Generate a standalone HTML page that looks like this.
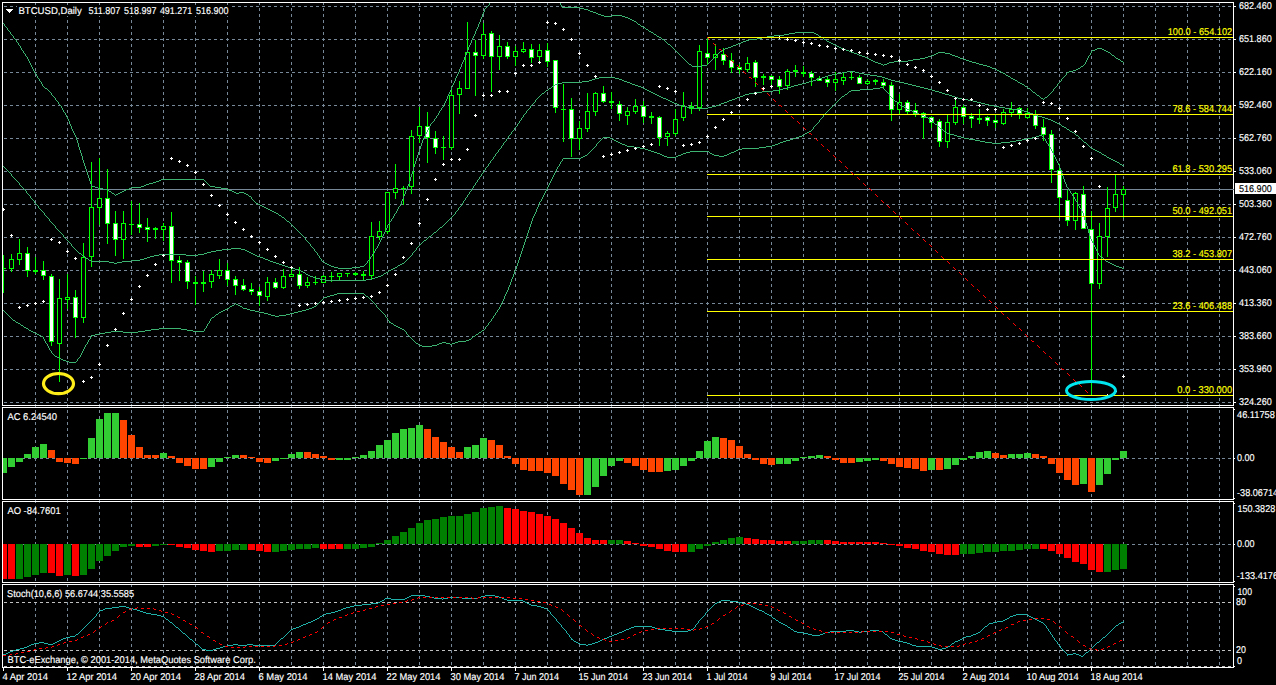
<!DOCTYPE html>
<html><head><meta charset="utf-8"><title>BTCUSD Daily</title>
<style>html,body{margin:0;padding:0;background:#000;overflow:hidden}</style></head>
<body>
<svg width="1276" height="685" viewBox="0 0 1276 685" style="display:block;font-family:'Liberation Sans',sans-serif" text-rendering="geometricPrecision">
<defs>
<clipPath id="cm"><rect x="3" y="3" width="1230" height="402"/></clipPath>
<clipPath id="cs"><rect x="3" y="585" width="1230" height="82"/></clipPath>
<clipPath id="cr"><rect x="1234" y="0" width="42" height="685"/></clipPath>
</defs>
<rect x="0" y="0" width="1276" height="685" fill="#000"/>
<g shape-rendering="crispEdges" stroke="#778899" stroke-width="1" stroke-dasharray="3 3" fill="none">
<line x1="4" y1="6.5" x2="1233" y2="6.5"/>
<line x1="4" y1="39.5" x2="1233" y2="39.5"/>
<line x1="4" y1="72.5" x2="1233" y2="72.5"/>
<line x1="4" y1="105.5" x2="1233" y2="105.5"/>
<line x1="4" y1="138.5" x2="1233" y2="138.5"/>
<line x1="4" y1="171.5" x2="1233" y2="171.5"/>
<line x1="4" y1="204.5" x2="1233" y2="204.5"/>
<line x1="4" y1="237.5" x2="1233" y2="237.5"/>
<line x1="4" y1="270.5" x2="1233" y2="270.5"/>
<line x1="4" y1="303.5" x2="1233" y2="303.5"/>
<line x1="4" y1="336.5" x2="1233" y2="336.5"/>
<line x1="4" y1="369.5" x2="1233" y2="369.5"/>
<line x1="4" y1="402.5" x2="1233" y2="402.5"/>
<line x1="35.5" y1="2" x2="35.5" y2="667"/>
<line x1="67.5" y1="2" x2="67.5" y2="667"/>
<line x1="99.5" y1="2" x2="99.5" y2="667"/>
<line x1="131.5" y1="2" x2="131.5" y2="667"/>
<line x1="163.5" y1="2" x2="163.5" y2="667"/>
<line x1="195.5" y1="2" x2="195.5" y2="667"/>
<line x1="227.5" y1="2" x2="227.5" y2="667"/>
<line x1="259.5" y1="2" x2="259.5" y2="667"/>
<line x1="291.5" y1="2" x2="291.5" y2="667"/>
<line x1="323.5" y1="2" x2="323.5" y2="667"/>
<line x1="355.5" y1="2" x2="355.5" y2="667"/>
<line x1="387.5" y1="2" x2="387.5" y2="667"/>
<line x1="419.5" y1="2" x2="419.5" y2="667"/>
<line x1="451.5" y1="2" x2="451.5" y2="667"/>
<line x1="483.5" y1="2" x2="483.5" y2="667"/>
<line x1="515.5" y1="2" x2="515.5" y2="667"/>
<line x1="547.5" y1="2" x2="547.5" y2="667"/>
<line x1="579.5" y1="2" x2="579.5" y2="667"/>
<line x1="611.5" y1="2" x2="611.5" y2="667"/>
<line x1="643.5" y1="2" x2="643.5" y2="667"/>
<line x1="675.5" y1="2" x2="675.5" y2="667"/>
<line x1="707.5" y1="2" x2="707.5" y2="667"/>
<line x1="739.5" y1="2" x2="739.5" y2="667"/>
<line x1="771.5" y1="2" x2="771.5" y2="667"/>
<line x1="803.5" y1="2" x2="803.5" y2="667"/>
<line x1="835.5" y1="2" x2="835.5" y2="667"/>
<line x1="867.5" y1="2" x2="867.5" y2="667"/>
<line x1="899.5" y1="2" x2="899.5" y2="667"/>
<line x1="931.5" y1="2" x2="931.5" y2="667"/>
<line x1="963.5" y1="2" x2="963.5" y2="667"/>
<line x1="995.5" y1="2" x2="995.5" y2="667"/>
<line x1="1027.5" y1="2" x2="1027.5" y2="667"/>
<line x1="1059.5" y1="2" x2="1059.5" y2="667"/>
<line x1="1091.5" y1="2" x2="1091.5" y2="667"/>
<line x1="1123.5" y1="2" x2="1123.5" y2="667"/>
<line x1="1155.5" y1="2" x2="1155.5" y2="667"/>
<line x1="1187.5" y1="2" x2="1187.5" y2="667"/>
<line x1="1219.5" y1="2" x2="1219.5" y2="667"/>
<line x1="4" y1="458.5" x2="1233" y2="458.5"/>
<line x1="4" y1="544.5" x2="1233" y2="544.5"/>
</g>
<g shape-rendering="crispEdges" stroke="#c0c0c0" stroke-width="1" stroke-dasharray="3 3" fill="none">
<line x1="4" y1="602.5" x2="1233" y2="602.5"/>
<line x1="4" y1="650.5" x2="1233" y2="650.5"/>
<line x1="4" y1="666.5" x2="1233" y2="666.5"/>
</g>
<g shape-rendering="crispEdges">
<rect x="2" y="2" width="1232" height="1" fill="#fff"/>
<rect x="2" y="405" width="1232" height="1" fill="#fff"/>
<rect x="2" y="2" width="1" height="404" fill="#fff"/>
<rect x="1233" y="2" width="1" height="404" fill="#fff"/>
<rect x="2" y="407" width="1232" height="1" fill="#fff"/>
<rect x="2" y="499" width="1232" height="1" fill="#fff"/>
<rect x="2" y="407" width="1" height="93" fill="#fff"/>
<rect x="1233" y="407" width="1" height="93" fill="#fff"/>
<rect x="2" y="501" width="1232" height="1" fill="#fff"/>
<rect x="2" y="582" width="1232" height="1" fill="#fff"/>
<rect x="2" y="501" width="1" height="82" fill="#fff"/>
<rect x="1233" y="501" width="1" height="82" fill="#fff"/>
<rect x="2" y="584" width="1232" height="1" fill="#fff"/>
<rect x="2" y="667" width="1232" height="1" fill="#fff"/>
<rect x="2" y="584" width="1" height="84" fill="#fff"/>
<rect x="1233" y="584" width="1" height="84" fill="#fff"/>
<rect x="17" y="5" width="213" height="11" fill="#000"/>
</g>
<g clip-path="url(#cm)">
<rect x="3" y="189" width="1230" height="1" fill="#778899" shape-rendering="crispEdges"/>
<g shape-rendering="crispEdges">
<rect x="3" y="255" width="1" height="38" fill="#00ff00"/>
<rect x="3" y="268" width="3" height="1" fill="#00ff00"/>
<rect x="11" y="254" width="1" height="18" fill="#00ff00"/>
<rect x="9" y="259" width="5" height="10" fill="#00ff00"/>
<rect x="10" y="260" width="3" height="8" fill="#000"/>
<rect x="19" y="239" width="1" height="26" fill="#00ff00"/>
<rect x="17" y="253" width="5" height="7" fill="#00ff00"/>
<rect x="18" y="254" width="3" height="5" fill="#000"/>
<rect x="27" y="247" width="1" height="30" fill="#00ff00"/>
<rect x="25" y="253" width="5" height="18" fill="#00ff00"/>
<rect x="26" y="254" width="3" height="16" fill="#fff"/>
<rect x="35" y="257" width="1" height="17" fill="#00ff00"/>
<rect x="33" y="270" width="5" height="2" fill="#00ff00"/>
<rect x="43" y="261" width="1" height="19" fill="#00ff00"/>
<rect x="41" y="270" width="5" height="6" fill="#00ff00"/>
<rect x="42" y="271" width="3" height="4" fill="#fff"/>
<rect x="51" y="274" width="1" height="72" fill="#00ff00"/>
<rect x="49" y="276" width="5" height="66" fill="#00ff00"/>
<rect x="50" y="277" width="3" height="64" fill="#fff"/>
<rect x="59" y="279" width="1" height="103" fill="#00ff00"/>
<rect x="57" y="298" width="5" height="46" fill="#00ff00"/>
<rect x="58" y="299" width="3" height="44" fill="#000"/>
<rect x="67" y="274" width="1" height="35" fill="#00ff00"/>
<rect x="65" y="297" width="5" height="3" fill="#00ff00"/>
<rect x="66" y="298" width="3" height="1" fill="#000"/>
<rect x="75" y="290" width="1" height="48" fill="#00ff00"/>
<rect x="73" y="297" width="5" height="21" fill="#00ff00"/>
<rect x="74" y="298" width="3" height="19" fill="#fff"/>
<rect x="83" y="243" width="1" height="80" fill="#00ff00"/>
<rect x="81" y="257" width="5" height="61" fill="#00ff00"/>
<rect x="82" y="258" width="3" height="59" fill="#000"/>
<rect x="91" y="162" width="1" height="105" fill="#00ff00"/>
<rect x="89" y="207" width="5" height="50" fill="#00ff00"/>
<rect x="90" y="208" width="3" height="48" fill="#000"/>
<rect x="99" y="158" width="1" height="67" fill="#00ff00"/>
<rect x="97" y="198" width="5" height="10" fill="#00ff00"/>
<rect x="98" y="199" width="3" height="8" fill="#000"/>
<rect x="107" y="169" width="1" height="75" fill="#00ff00"/>
<rect x="105" y="198" width="5" height="26" fill="#00ff00"/>
<rect x="106" y="199" width="3" height="24" fill="#fff"/>
<rect x="115" y="211" width="1" height="45" fill="#00ff00"/>
<rect x="113" y="223" width="5" height="17" fill="#00ff00"/>
<rect x="114" y="224" width="3" height="15" fill="#fff"/>
<rect x="123" y="211" width="1" height="48" fill="#00ff00"/>
<rect x="121" y="223" width="5" height="17" fill="#00ff00"/>
<rect x="122" y="224" width="3" height="15" fill="#000"/>
<rect x="131" y="201" width="1" height="34" fill="#00ff00"/>
<rect x="129" y="224" width="5" height="1" fill="#00ff00"/>
<rect x="139" y="203" width="1" height="30" fill="#00ff00"/>
<rect x="137" y="224" width="5" height="4" fill="#00ff00"/>
<rect x="138" y="225" width="3" height="2" fill="#fff"/>
<rect x="147" y="218" width="1" height="24" fill="#00ff00"/>
<rect x="145" y="227" width="5" height="3" fill="#00ff00"/>
<rect x="146" y="228" width="3" height="1" fill="#fff"/>
<rect x="155" y="227" width="1" height="12" fill="#00ff00"/>
<rect x="153" y="228" width="5" height="2" fill="#00ff00"/>
<rect x="163" y="223" width="1" height="18" fill="#00ff00"/>
<rect x="161" y="226" width="5" height="4" fill="#00ff00"/>
<rect x="162" y="227" width="3" height="2" fill="#000"/>
<rect x="171" y="212" width="1" height="71" fill="#00ff00"/>
<rect x="169" y="226" width="5" height="35" fill="#00ff00"/>
<rect x="170" y="227" width="3" height="33" fill="#fff"/>
<rect x="179" y="256" width="1" height="25" fill="#00ff00"/>
<rect x="177" y="260" width="5" height="3" fill="#00ff00"/>
<rect x="178" y="261" width="3" height="1" fill="#fff"/>
<rect x="187" y="260" width="1" height="29" fill="#00ff00"/>
<rect x="185" y="262" width="5" height="20" fill="#00ff00"/>
<rect x="186" y="263" width="3" height="18" fill="#fff"/>
<rect x="195" y="276" width="1" height="29" fill="#00ff00"/>
<rect x="193" y="282" width="5" height="2" fill="#00ff00"/>
<rect x="203" y="271" width="1" height="21" fill="#00ff00"/>
<rect x="201" y="282" width="5" height="2" fill="#00ff00"/>
<rect x="211" y="270" width="1" height="18" fill="#00ff00"/>
<rect x="209" y="274" width="5" height="8" fill="#00ff00"/>
<rect x="210" y="275" width="3" height="6" fill="#000"/>
<rect x="219" y="259" width="1" height="20" fill="#00ff00"/>
<rect x="217" y="270" width="5" height="6" fill="#00ff00"/>
<rect x="218" y="271" width="3" height="4" fill="#000"/>
<rect x="227" y="263" width="1" height="23" fill="#00ff00"/>
<rect x="225" y="270" width="5" height="10" fill="#00ff00"/>
<rect x="226" y="271" width="3" height="8" fill="#fff"/>
<rect x="235" y="276" width="1" height="19" fill="#00ff00"/>
<rect x="233" y="279" width="5" height="7" fill="#00ff00"/>
<rect x="234" y="280" width="3" height="5" fill="#fff"/>
<rect x="243" y="279" width="1" height="12" fill="#00ff00"/>
<rect x="241" y="285" width="5" height="5" fill="#00ff00"/>
<rect x="242" y="286" width="3" height="3" fill="#fff"/>
<rect x="251" y="283" width="1" height="12" fill="#00ff00"/>
<rect x="249" y="289" width="5" height="3" fill="#00ff00"/>
<rect x="250" y="290" width="3" height="1" fill="#fff"/>
<rect x="259" y="287" width="1" height="19" fill="#00ff00"/>
<rect x="257" y="291" width="5" height="5" fill="#00ff00"/>
<rect x="258" y="292" width="3" height="3" fill="#fff"/>
<rect x="267" y="277" width="1" height="24" fill="#00ff00"/>
<rect x="265" y="282" width="5" height="15" fill="#00ff00"/>
<rect x="266" y="283" width="3" height="13" fill="#000"/>
<rect x="275" y="278" width="1" height="11" fill="#00ff00"/>
<rect x="273" y="282" width="5" height="6" fill="#00ff00"/>
<rect x="274" y="283" width="3" height="4" fill="#fff"/>
<rect x="283" y="269" width="1" height="20" fill="#00ff00"/>
<rect x="281" y="276" width="5" height="12" fill="#00ff00"/>
<rect x="282" y="277" width="3" height="10" fill="#000"/>
<rect x="291" y="267" width="1" height="10" fill="#00ff00"/>
<rect x="289" y="274" width="5" height="3" fill="#00ff00"/>
<rect x="290" y="275" width="3" height="1" fill="#000"/>
<rect x="299" y="267" width="1" height="22" fill="#00ff00"/>
<rect x="297" y="274" width="5" height="12" fill="#00ff00"/>
<rect x="298" y="275" width="3" height="10" fill="#fff"/>
<rect x="307" y="277" width="1" height="11" fill="#00ff00"/>
<rect x="305" y="282" width="5" height="4" fill="#00ff00"/>
<rect x="306" y="283" width="3" height="2" fill="#000"/>
<rect x="315" y="276" width="1" height="9" fill="#00ff00"/>
<rect x="313" y="282" width="5" height="1" fill="#00ff00"/>
<rect x="323" y="275" width="1" height="8" fill="#00ff00"/>
<rect x="321" y="276" width="5" height="7" fill="#00ff00"/>
<rect x="322" y="277" width="3" height="5" fill="#000"/>
<rect x="331" y="272" width="1" height="10" fill="#00ff00"/>
<rect x="329" y="276" width="5" height="1" fill="#00ff00"/>
<rect x="339" y="273" width="1" height="7" fill="#00ff00"/>
<rect x="337" y="273" width="5" height="4" fill="#00ff00"/>
<rect x="338" y="274" width="3" height="2" fill="#000"/>
<rect x="347" y="273" width="1" height="4" fill="#00ff00"/>
<rect x="345" y="273" width="5" height="1" fill="#00ff00"/>
<rect x="355" y="272" width="1" height="4" fill="#00ff00"/>
<rect x="353" y="273" width="5" height="2" fill="#00ff00"/>
<rect x="363" y="271" width="1" height="9" fill="#00ff00"/>
<rect x="361" y="274" width="5" height="2" fill="#00ff00"/>
<rect x="371" y="222" width="1" height="57" fill="#00ff00"/>
<rect x="369" y="236" width="5" height="40" fill="#00ff00"/>
<rect x="370" y="237" width="3" height="38" fill="#000"/>
<rect x="379" y="221" width="1" height="19" fill="#00ff00"/>
<rect x="377" y="231" width="5" height="6" fill="#00ff00"/>
<rect x="378" y="232" width="3" height="4" fill="#000"/>
<rect x="387" y="192" width="1" height="42" fill="#00ff00"/>
<rect x="385" y="192" width="5" height="40" fill="#00ff00"/>
<rect x="386" y="193" width="3" height="38" fill="#000"/>
<rect x="395" y="164" width="1" height="35" fill="#00ff00"/>
<rect x="393" y="188" width="5" height="5" fill="#00ff00"/>
<rect x="394" y="189" width="3" height="3" fill="#000"/>
<rect x="403" y="186" width="1" height="19" fill="#00ff00"/>
<rect x="401" y="188" width="5" height="1" fill="#00ff00"/>
<rect x="411" y="130" width="1" height="64" fill="#00ff00"/>
<rect x="409" y="136" width="5" height="51" fill="#00ff00"/>
<rect x="410" y="137" width="3" height="49" fill="#000"/>
<rect x="419" y="107" width="1" height="36" fill="#00ff00"/>
<rect x="417" y="126" width="5" height="10" fill="#00ff00"/>
<rect x="418" y="127" width="3" height="8" fill="#000"/>
<rect x="427" y="112" width="1" height="51" fill="#00ff00"/>
<rect x="425" y="126" width="5" height="12" fill="#00ff00"/>
<rect x="426" y="127" width="3" height="10" fill="#fff"/>
<rect x="435" y="131" width="1" height="23" fill="#00ff00"/>
<rect x="433" y="138" width="5" height="10" fill="#00ff00"/>
<rect x="434" y="139" width="3" height="8" fill="#fff"/>
<rect x="443" y="136" width="1" height="24" fill="#00ff00"/>
<rect x="441" y="147" width="5" height="1" fill="#00ff00"/>
<rect x="451" y="90" width="1" height="60" fill="#00ff00"/>
<rect x="449" y="95" width="5" height="53" fill="#00ff00"/>
<rect x="450" y="96" width="3" height="51" fill="#000"/>
<rect x="459" y="81" width="1" height="33" fill="#00ff00"/>
<rect x="457" y="88" width="5" height="7" fill="#00ff00"/>
<rect x="458" y="89" width="3" height="5" fill="#000"/>
<rect x="467" y="22" width="1" height="67" fill="#00ff00"/>
<rect x="465" y="52" width="5" height="37" fill="#00ff00"/>
<rect x="466" y="53" width="3" height="35" fill="#000"/>
<rect x="475" y="40" width="1" height="56" fill="#00ff00"/>
<rect x="473" y="52" width="5" height="4" fill="#00ff00"/>
<rect x="474" y="53" width="3" height="2" fill="#fff"/>
<rect x="483" y="23" width="1" height="36" fill="#00ff00"/>
<rect x="481" y="34" width="5" height="22" fill="#00ff00"/>
<rect x="482" y="35" width="3" height="20" fill="#000"/>
<rect x="491" y="31" width="1" height="61" fill="#00ff00"/>
<rect x="489" y="33" width="5" height="24" fill="#00ff00"/>
<rect x="490" y="34" width="3" height="22" fill="#fff"/>
<rect x="499" y="35" width="1" height="35" fill="#00ff00"/>
<rect x="497" y="46" width="5" height="11" fill="#00ff00"/>
<rect x="498" y="47" width="3" height="9" fill="#000"/>
<rect x="507" y="42" width="1" height="17" fill="#00ff00"/>
<rect x="505" y="46" width="5" height="11" fill="#00ff00"/>
<rect x="506" y="47" width="3" height="9" fill="#fff"/>
<rect x="515" y="46" width="1" height="20" fill="#00ff00"/>
<rect x="513" y="51" width="5" height="6" fill="#00ff00"/>
<rect x="514" y="52" width="3" height="4" fill="#000"/>
<rect x="523" y="42" width="1" height="11" fill="#00ff00"/>
<rect x="521" y="49" width="5" height="3" fill="#00ff00"/>
<rect x="522" y="50" width="3" height="1" fill="#000"/>
<rect x="531" y="44" width="1" height="19" fill="#00ff00"/>
<rect x="529" y="49" width="5" height="9" fill="#00ff00"/>
<rect x="530" y="50" width="3" height="7" fill="#fff"/>
<rect x="539" y="44" width="1" height="17" fill="#00ff00"/>
<rect x="537" y="50" width="5" height="7" fill="#00ff00"/>
<rect x="538" y="51" width="3" height="5" fill="#000"/>
<rect x="547" y="43" width="1" height="24" fill="#00ff00"/>
<rect x="545" y="50" width="5" height="12" fill="#00ff00"/>
<rect x="546" y="51" width="3" height="10" fill="#fff"/>
<rect x="555" y="60" width="1" height="53" fill="#00ff00"/>
<rect x="553" y="60" width="5" height="48" fill="#00ff00"/>
<rect x="554" y="61" width="3" height="46" fill="#fff"/>
<rect x="563" y="84" width="1" height="58" fill="#00ff00"/>
<rect x="561" y="109" width="5" height="1" fill="#00ff00"/>
<rect x="571" y="98" width="1" height="59" fill="#00ff00"/>
<rect x="569" y="109" width="5" height="30" fill="#00ff00"/>
<rect x="570" y="110" width="3" height="28" fill="#fff"/>
<rect x="579" y="121" width="1" height="29" fill="#00ff00"/>
<rect x="577" y="128" width="5" height="11" fill="#00ff00"/>
<rect x="578" y="129" width="3" height="9" fill="#000"/>
<rect x="587" y="93" width="1" height="39" fill="#00ff00"/>
<rect x="585" y="111" width="5" height="18" fill="#00ff00"/>
<rect x="586" y="112" width="3" height="16" fill="#000"/>
<rect x="595" y="92" width="1" height="24" fill="#00ff00"/>
<rect x="593" y="93" width="5" height="19" fill="#00ff00"/>
<rect x="594" y="94" width="3" height="17" fill="#000"/>
<rect x="603" y="86" width="1" height="17" fill="#00ff00"/>
<rect x="601" y="93" width="5" height="9" fill="#00ff00"/>
<rect x="602" y="94" width="3" height="7" fill="#fff"/>
<rect x="611" y="92" width="1" height="17" fill="#00ff00"/>
<rect x="609" y="101" width="5" height="2" fill="#00ff00"/>
<rect x="619" y="101" width="1" height="20" fill="#00ff00"/>
<rect x="617" y="104" width="5" height="10" fill="#00ff00"/>
<rect x="618" y="105" width="3" height="8" fill="#fff"/>
<rect x="627" y="107" width="1" height="18" fill="#00ff00"/>
<rect x="625" y="111" width="5" height="5" fill="#00ff00"/>
<rect x="626" y="112" width="3" height="3" fill="#000"/>
<rect x="635" y="99" width="1" height="15" fill="#00ff00"/>
<rect x="633" y="106" width="5" height="6" fill="#00ff00"/>
<rect x="634" y="107" width="3" height="4" fill="#000"/>
<rect x="643" y="101" width="1" height="22" fill="#00ff00"/>
<rect x="641" y="106" width="5" height="11" fill="#00ff00"/>
<rect x="642" y="107" width="3" height="9" fill="#fff"/>
<rect x="651" y="112" width="1" height="12" fill="#00ff00"/>
<rect x="649" y="116" width="5" height="2" fill="#00ff00"/>
<rect x="659" y="116" width="1" height="30" fill="#00ff00"/>
<rect x="657" y="117" width="5" height="21" fill="#00ff00"/>
<rect x="658" y="118" width="3" height="19" fill="#fff"/>
<rect x="667" y="131" width="1" height="15" fill="#00ff00"/>
<rect x="665" y="133" width="5" height="4" fill="#00ff00"/>
<rect x="666" y="134" width="3" height="2" fill="#000"/>
<rect x="675" y="109" width="1" height="27" fill="#00ff00"/>
<rect x="673" y="119" width="5" height="15" fill="#00ff00"/>
<rect x="674" y="120" width="3" height="13" fill="#000"/>
<rect x="683" y="92" width="1" height="29" fill="#00ff00"/>
<rect x="681" y="106" width="5" height="12" fill="#00ff00"/>
<rect x="682" y="107" width="3" height="10" fill="#000"/>
<rect x="691" y="102" width="1" height="12" fill="#00ff00"/>
<rect x="689" y="106" width="5" height="3" fill="#00ff00"/>
<rect x="690" y="107" width="3" height="1" fill="#fff"/>
<rect x="699" y="45" width="1" height="66" fill="#00ff00"/>
<rect x="697" y="51" width="5" height="57" fill="#00ff00"/>
<rect x="698" y="52" width="3" height="55" fill="#000"/>
<rect x="707" y="38" width="1" height="26" fill="#00ff00"/>
<rect x="705" y="53" width="5" height="5" fill="#00ff00"/>
<rect x="706" y="54" width="3" height="3" fill="#fff"/>
<rect x="715" y="44" width="1" height="26" fill="#00ff00"/>
<rect x="713" y="54" width="5" height="4" fill="#00ff00"/>
<rect x="714" y="55" width="3" height="2" fill="#000"/>
<rect x="723" y="48" width="1" height="17" fill="#00ff00"/>
<rect x="721" y="54" width="5" height="7" fill="#00ff00"/>
<rect x="722" y="55" width="3" height="5" fill="#fff"/>
<rect x="731" y="53" width="1" height="20" fill="#00ff00"/>
<rect x="729" y="60" width="5" height="8" fill="#00ff00"/>
<rect x="730" y="61" width="3" height="6" fill="#fff"/>
<rect x="739" y="64" width="1" height="10" fill="#00ff00"/>
<rect x="737" y="67" width="5" height="3" fill="#00ff00"/>
<rect x="738" y="68" width="3" height="1" fill="#fff"/>
<rect x="747" y="57" width="1" height="15" fill="#00ff00"/>
<rect x="745" y="63" width="5" height="7" fill="#00ff00"/>
<rect x="746" y="64" width="3" height="5" fill="#000"/>
<rect x="755" y="60" width="1" height="27" fill="#00ff00"/>
<rect x="753" y="62" width="5" height="16" fill="#00ff00"/>
<rect x="754" y="63" width="3" height="14" fill="#fff"/>
<rect x="763" y="74" width="1" height="11" fill="#00ff00"/>
<rect x="761" y="76" width="5" height="2" fill="#00ff00"/>
<rect x="771" y="75" width="1" height="11" fill="#00ff00"/>
<rect x="769" y="76" width="5" height="4" fill="#00ff00"/>
<rect x="770" y="77" width="3" height="2" fill="#fff"/>
<rect x="779" y="76" width="1" height="18" fill="#00ff00"/>
<rect x="777" y="79" width="5" height="8" fill="#00ff00"/>
<rect x="778" y="80" width="3" height="6" fill="#fff"/>
<rect x="787" y="69" width="1" height="21" fill="#00ff00"/>
<rect x="785" y="71" width="5" height="15" fill="#00ff00"/>
<rect x="786" y="72" width="3" height="13" fill="#000"/>
<rect x="795" y="65" width="1" height="12" fill="#00ff00"/>
<rect x="793" y="70" width="5" height="2" fill="#00ff00"/>
<rect x="803" y="66" width="1" height="11" fill="#00ff00"/>
<rect x="801" y="72" width="5" height="2" fill="#00ff00"/>
<rect x="811" y="71" width="1" height="15" fill="#00ff00"/>
<rect x="809" y="73" width="5" height="5" fill="#00ff00"/>
<rect x="810" y="74" width="3" height="3" fill="#fff"/>
<rect x="819" y="76" width="1" height="5" fill="#00ff00"/>
<rect x="817" y="78" width="5" height="3" fill="#00ff00"/>
<rect x="818" y="79" width="3" height="1" fill="#fff"/>
<rect x="827" y="76" width="1" height="11" fill="#00ff00"/>
<rect x="825" y="79" width="5" height="4" fill="#00ff00"/>
<rect x="826" y="80" width="3" height="2" fill="#fff"/>
<rect x="835" y="72" width="1" height="19" fill="#00ff00"/>
<rect x="833" y="79" width="5" height="4" fill="#00ff00"/>
<rect x="834" y="80" width="3" height="2" fill="#000"/>
<rect x="843" y="73" width="1" height="12" fill="#00ff00"/>
<rect x="841" y="77" width="5" height="4" fill="#00ff00"/>
<rect x="842" y="78" width="3" height="2" fill="#000"/>
<rect x="851" y="71" width="1" height="9" fill="#00ff00"/>
<rect x="849" y="77" width="5" height="1" fill="#00ff00"/>
<rect x="859" y="75" width="1" height="9" fill="#00ff00"/>
<rect x="857" y="77" width="5" height="7" fill="#00ff00"/>
<rect x="858" y="78" width="3" height="5" fill="#fff"/>
<rect x="867" y="79" width="1" height="6" fill="#00ff00"/>
<rect x="865" y="81" width="5" height="3" fill="#00ff00"/>
<rect x="866" y="82" width="3" height="1" fill="#000"/>
<rect x="875" y="79" width="1" height="6" fill="#00ff00"/>
<rect x="873" y="80" width="5" height="2" fill="#00ff00"/>
<rect x="883" y="79" width="1" height="9" fill="#00ff00"/>
<rect x="881" y="82" width="5" height="4" fill="#00ff00"/>
<rect x="882" y="83" width="3" height="2" fill="#fff"/>
<rect x="891" y="82" width="1" height="39" fill="#00ff00"/>
<rect x="889" y="85" width="5" height="25" fill="#00ff00"/>
<rect x="890" y="86" width="3" height="23" fill="#fff"/>
<rect x="899" y="94" width="1" height="20" fill="#00ff00"/>
<rect x="897" y="102" width="5" height="8" fill="#00ff00"/>
<rect x="898" y="103" width="3" height="6" fill="#000"/>
<rect x="907" y="100" width="1" height="14" fill="#00ff00"/>
<rect x="905" y="102" width="5" height="10" fill="#00ff00"/>
<rect x="906" y="103" width="3" height="8" fill="#fff"/>
<rect x="915" y="103" width="1" height="14" fill="#00ff00"/>
<rect x="913" y="110" width="5" height="4" fill="#00ff00"/>
<rect x="914" y="111" width="3" height="2" fill="#fff"/>
<rect x="923" y="112" width="1" height="27" fill="#00ff00"/>
<rect x="921" y="113" width="5" height="5" fill="#00ff00"/>
<rect x="922" y="114" width="3" height="3" fill="#fff"/>
<rect x="931" y="116" width="1" height="12" fill="#00ff00"/>
<rect x="929" y="117" width="5" height="6" fill="#00ff00"/>
<rect x="930" y="118" width="3" height="4" fill="#fff"/>
<rect x="939" y="119" width="1" height="28" fill="#00ff00"/>
<rect x="937" y="121" width="5" height="21" fill="#00ff00"/>
<rect x="938" y="122" width="3" height="19" fill="#fff"/>
<rect x="947" y="115" width="1" height="33" fill="#00ff00"/>
<rect x="945" y="122" width="5" height="20" fill="#00ff00"/>
<rect x="946" y="123" width="3" height="18" fill="#000"/>
<rect x="955" y="98" width="1" height="27" fill="#00ff00"/>
<rect x="953" y="107" width="5" height="16" fill="#00ff00"/>
<rect x="954" y="108" width="3" height="14" fill="#000"/>
<rect x="963" y="105" width="1" height="19" fill="#00ff00"/>
<rect x="961" y="107" width="5" height="10" fill="#00ff00"/>
<rect x="962" y="108" width="3" height="8" fill="#fff"/>
<rect x="971" y="113" width="1" height="15" fill="#00ff00"/>
<rect x="969" y="116" width="5" height="3" fill="#00ff00"/>
<rect x="970" y="117" width="3" height="1" fill="#fff"/>
<rect x="979" y="109" width="1" height="15" fill="#00ff00"/>
<rect x="977" y="118" width="5" height="2" fill="#00ff00"/>
<rect x="987" y="116" width="1" height="10" fill="#00ff00"/>
<rect x="985" y="117" width="5" height="4" fill="#00ff00"/>
<rect x="986" y="118" width="3" height="2" fill="#fff"/>
<rect x="995" y="114" width="1" height="14" fill="#00ff00"/>
<rect x="993" y="120" width="5" height="3" fill="#00ff00"/>
<rect x="994" y="121" width="3" height="1" fill="#fff"/>
<rect x="1003" y="109" width="1" height="16" fill="#00ff00"/>
<rect x="1001" y="112" width="5" height="12" fill="#00ff00"/>
<rect x="1002" y="113" width="3" height="10" fill="#000"/>
<rect x="1011" y="102" width="1" height="15" fill="#00ff00"/>
<rect x="1009" y="109" width="5" height="4" fill="#00ff00"/>
<rect x="1010" y="110" width="3" height="2" fill="#000"/>
<rect x="1019" y="107" width="1" height="12" fill="#00ff00"/>
<rect x="1017" y="108" width="5" height="6" fill="#00ff00"/>
<rect x="1018" y="109" width="3" height="4" fill="#fff"/>
<rect x="1027" y="108" width="1" height="11" fill="#00ff00"/>
<rect x="1025" y="113" width="5" height="5" fill="#00ff00"/>
<rect x="1026" y="114" width="3" height="3" fill="#000"/>
<rect x="1035" y="110" width="1" height="19" fill="#00ff00"/>
<rect x="1033" y="115" width="5" height="11" fill="#00ff00"/>
<rect x="1034" y="116" width="3" height="9" fill="#fff"/>
<rect x="1043" y="119" width="1" height="22" fill="#00ff00"/>
<rect x="1041" y="127" width="5" height="8" fill="#00ff00"/>
<rect x="1042" y="128" width="3" height="6" fill="#fff"/>
<rect x="1051" y="130" width="1" height="53" fill="#00ff00"/>
<rect x="1049" y="134" width="5" height="36" fill="#00ff00"/>
<rect x="1050" y="135" width="3" height="34" fill="#fff"/>
<rect x="1059" y="164" width="1" height="54" fill="#00ff00"/>
<rect x="1057" y="170" width="5" height="28" fill="#00ff00"/>
<rect x="1058" y="171" width="3" height="26" fill="#fff"/>
<rect x="1067" y="190" width="1" height="36" fill="#00ff00"/>
<rect x="1065" y="200" width="5" height="21" fill="#00ff00"/>
<rect x="1066" y="201" width="3" height="19" fill="#fff"/>
<rect x="1075" y="192" width="1" height="38" fill="#00ff00"/>
<rect x="1073" y="193" width="5" height="28" fill="#00ff00"/>
<rect x="1074" y="194" width="3" height="26" fill="#000"/>
<rect x="1083" y="186" width="1" height="43" fill="#00ff00"/>
<rect x="1081" y="194" width="5" height="35" fill="#00ff00"/>
<rect x="1082" y="195" width="3" height="33" fill="#fff"/>
<rect x="1091" y="211" width="1" height="184" fill="#00ff00"/>
<rect x="1089" y="229" width="5" height="55" fill="#00ff00"/>
<rect x="1090" y="230" width="3" height="53" fill="#fff"/>
<rect x="1099" y="223" width="1" height="66" fill="#00ff00"/>
<rect x="1097" y="236" width="5" height="48" fill="#00ff00"/>
<rect x="1098" y="237" width="3" height="46" fill="#000"/>
<rect x="1107" y="187" width="1" height="70" fill="#00ff00"/>
<rect x="1105" y="208" width="5" height="29" fill="#00ff00"/>
<rect x="1106" y="209" width="3" height="27" fill="#000"/>
<rect x="1115" y="175" width="1" height="37" fill="#00ff00"/>
<rect x="1113" y="194" width="5" height="14" fill="#00ff00"/>
<rect x="1114" y="195" width="3" height="12" fill="#000"/>
<rect x="1123" y="186" width="1" height="32" fill="#00ff00"/>
<rect x="1121" y="189" width="5" height="6" fill="#00ff00"/>
<rect x="1122" y="190" width="3" height="4" fill="#000"/>
</g>
<path d="M3 23h1v1h-1zM4 24h1v2h-1zM5 26h1v1h-1zM6 27h1v1h-1zM7 28h1v2h-1zM8 30h1v1h-1zM9 31h1v1h-1zM10 32h1v2h-1zM11 34h1v1h-1zM12 35h1v1h-1zM13 36h1v2h-1zM14 38h1v1h-1zM15 39h1v1h-1zM16 40h1v2h-1zM17 42h1v1h-1zM18 43h1v2h-1zM19 45h1v1h-1zM20 46h1v2h-1zM21 48h1v2h-1zM22 50h1v1h-1zM23 51h1v2h-1zM24 53h1v1h-1zM25 54h1v2h-1zM26 56h1v1h-1zM27 57h1v2h-1zM28 59h1v2h-1zM29 61h1v2h-1zM30 63h1v2h-1zM31 65h1v2h-1zM32 67h1v2h-1zM33 69h1v2h-1zM34 71h1v2h-1zM35 73h1v1h-1zM36 74h1v2h-1zM37 76h1v2h-1zM38 78h1v1h-1zM39 79h1v2h-1zM40 81h1v1h-1zM41 82h1v2h-1zM42 84h1v2h-1zM43 86h1v1h-1zM44 87h1v1h-1zM45 88h2v1h-2zM47 89h1v1h-1zM48 90h1v1h-1zM49 91h1v1h-1zM50 92h1v1h-1zM51 93h1v2h-1zM52 95h1v1h-1zM53 96h1v1h-1zM54 97h1v1h-1zM55 98h1v2h-1zM56 100h1v1h-1zM57 101h1v1h-1zM58 102h1v2h-1zM59 104h1v1h-1zM60 105h1v1h-1zM61 106h1v2h-1zM62 108h1v2h-1zM63 110h1v2h-1zM64 112h1v1h-1zM65 113h1v2h-1zM66 115h1v2h-1zM67 117h1v2h-1zM68 119h1v2h-1zM69 121h1v3h-1zM70 124h1v2h-1zM71 126h1v3h-1zM72 129h1v2h-1zM73 131h1v2h-1zM74 133h1v2h-1zM75 135h1v2h-1zM76 137h1v3h-1zM77 140h1v3h-1zM78 143h1v4h-1zM79 147h1v3h-1zM80 150h1v3h-1zM81 153h1v3h-1zM82 156h1v4h-1zM83 160h1v3h-1zM84 163h1v3h-1zM85 166h1v3h-1zM86 169h1v3h-1zM87 172h1v3h-1zM88 175h1v3h-1zM89 178h1v3h-1zM90 181h1v3h-1zM91 184h1v2h-1zM92 186h3v1h-3zM95 187h3v1h-3zM98 188h5v1h-5zM103 189h5v1h-5zM108 190h1v1h-1zM109 191h2v1h-2zM111 192h1v1h-1zM112 193h2v1h-2zM114 194h1v1h-1zM115 195h1v1h-1zM116 194h2v1h-2zM118 193h2v1h-2zM120 192h2v1h-2zM122 191h2v1h-2zM124 190h2v1h-2zM126 189h3v1h-3zM129 188h2v1h-2zM131 187h10v1h-10zM141 186h3v1h-3zM144 185h2v1h-2zM146 184h3v1h-3zM149 183h4v1h-4zM153 182h3v1h-3zM156 181h3v1h-3zM159 180h2v1h-2zM161 179h43v1h-43zM204 180h1v1h-1zM205 181h1v1h-1zM206 182h1v1h-1zM207 183h1v1h-1zM208 184h1v1h-1zM209 185h1v1h-1zM210 186h5v1h-5zM215 187h6v1h-6zM221 188h6v1h-6zM227 189h2v1h-2zM229 190h3v1h-3zM232 191h2v1h-2zM234 192h2v1h-2zM236 193h3v1h-3zM239 192h5v1h-5zM244 193h2v1h-2zM246 194h2v1h-2zM248 195h1v1h-1zM249 196h2v1h-2zM251 197h1v2h-1zM252 199h1v1h-1zM253 200h1v1h-1zM254 201h1v1h-1zM255 202h1v1h-1zM256 203h2v1h-2zM258 204h2v1h-2zM260 205h2v1h-2zM262 206h2v1h-2zM264 207h2v1h-2zM266 208h2v1h-2zM268 209h2v1h-2zM270 210h2v1h-2zM272 211h2v1h-2zM274 212h2v1h-2zM276 213h2v1h-2zM278 214h1v1h-1zM279 215h2v1h-2zM281 216h1v1h-1zM282 217h2v1h-2zM284 218h1v1h-1zM285 219h1v1h-1zM286 220h1v1h-1zM287 221h2v1h-2zM289 222h1v1h-1zM290 223h1v1h-1zM291 224h1v1h-1zM292 225h1v1h-1zM293 226h1v1h-1zM294 227h1v1h-1zM295 228h1v1h-1zM296 229h1v1h-1zM297 230h1v1h-1zM298 231h1v1h-1zM299 232h1v1h-1zM300 233h1v1h-1zM301 234h1v1h-1zM302 235h1v1h-1zM303 236h1v1h-1zM304 237h1v1h-1zM305 238h1v2h-1zM306 240h1v1h-1zM307 241h1v1h-1zM308 242h1v1h-1zM309 243h1v1h-1zM310 244h1v2h-1zM311 246h1v1h-1zM312 247h1v1h-1zM313 248h1v1h-1zM314 249h1v2h-1zM315 251h1v1h-1zM316 252h1v1h-1zM317 253h1v2h-1zM318 255h1v1h-1zM319 256h1v2h-1zM320 258h1v1h-1zM321 259h1v2h-1zM322 261h2v1h-2zM324 262h1v1h-1zM325 263h2v1h-2zM327 264h2v1h-2zM329 265h2v1h-2zM331 266h3v1h-3zM334 267h4v1h-4zM338 268h14v1h-14zM352 267h8v1h-8zM360 266h4v1h-4zM364 265h1v1h-1zM365 264h1v1h-1zM366 263h1v1h-1zM367 261h1v2h-1zM368 260h1v1h-1zM369 259h1v1h-1zM370 257h1v2h-1zM371 256h1v1h-1zM372 254h1v2h-1zM373 253h1v1h-1zM374 251h1v2h-1zM375 249h1v2h-1zM376 248h1v1h-1zM377 246h1v2h-1zM378 244h1v2h-1zM379 242h1v2h-1zM380 240h1v2h-1zM381 238h1v2h-1zM382 236h1v2h-1zM383 234h1v2h-1zM384 232h1v2h-1zM385 230h1v2h-1zM386 228h1v2h-1zM387 225h1v3h-1zM388 224h1v1h-1zM389 222h1v2h-1zM390 221h1v1h-1zM391 219h1v2h-1zM392 218h1v1h-1zM393 216h1v2h-1zM394 214h1v2h-1zM395 213h1v1h-1zM396 211h1v2h-1zM397 209h1v2h-1zM398 207h1v2h-1zM399 206h1v1h-1zM400 204h1v2h-1zM401 201h1v3h-1zM402 199h1v2h-1zM403 196h1v3h-1zM404 194h1v2h-1zM405 191h1v3h-1zM406 189h1v2h-1zM407 186h1v3h-1zM408 184h1v2h-1zM409 181h1v3h-1zM410 177h1v4h-1zM411 174h1v3h-1zM412 171h1v3h-1zM413 167h1v4h-1zM414 164h1v3h-1zM415 161h1v3h-1zM416 158h1v3h-1zM417 155h1v3h-1zM418 152h1v3h-1zM419 149h1v3h-1zM420 146h1v3h-1zM421 143h1v3h-1zM422 140h1v3h-1zM423 138h1v2h-1zM424 136h1v2h-1zM425 134h1v2h-1zM426 132h1v2h-1zM427 130h1v2h-1zM428 128h1v2h-1zM429 126h1v2h-1zM430 124h1v2h-1zM431 123h1v1h-1zM432 122h1v1h-1zM433 121h1v1h-1zM434 119h1v2h-1zM435 118h1v1h-1zM436 116h1v2h-1zM437 115h1v1h-1zM438 113h1v2h-1zM439 111h1v2h-1zM440 110h1v1h-1zM441 108h1v2h-1zM442 107h1v1h-1zM443 105h1v2h-1zM444 103h1v2h-1zM445 101h1v2h-1zM446 99h1v2h-1zM447 96h1v3h-1zM448 94h1v2h-1zM449 92h1v2h-1zM450 90h1v2h-1zM451 87h1v3h-1zM452 85h1v2h-1zM453 83h1v2h-1zM454 81h1v2h-1zM455 78h1v3h-1zM456 76h1v2h-1zM457 74h1v2h-1zM458 72h1v2h-1zM459 69h1v3h-1zM460 67h1v2h-1zM461 64h1v3h-1zM462 62h1v2h-1zM463 60h1v2h-1zM464 57h1v3h-1zM465 55h1v2h-1zM466 52h1v3h-1zM467 50h1v2h-1zM468 47h1v3h-1zM469 45h1v2h-1zM470 43h1v2h-1zM471 40h1v3h-1zM472 38h1v2h-1zM473 36h1v2h-1zM474 34h1v2h-1zM475 31h1v3h-1zM476 29h1v2h-1zM477 27h1v2h-1zM478 24h1v3h-1zM479 22h1v2h-1zM480 19h1v3h-1zM481 17h1v2h-1zM482 14h1v3h-1zM483 12h1v2h-1zM484 9h1v3h-1zM485 8h1v1h-1zM486 7h1v1h-1zM487 6h1v1h-1zM488 5h1v1h-1zM489 3h1v2h-1zM490 2h1v1h-1zM491 0h1v2h-1zM492 -2h1v2h-1zM493 -3h1v1h-1zM494 -5h1v2h-1zM495 -7h1v2h-1zM496 -9h1v2h-1zM497 -11h1v2h-1zM498 -13h1v2h-1zM499 -15h1v2h-1zM500 -16h2v1h-2zM502 -17h1v1h-1zM503 -18h2v1h-2zM505 -19h2v1h-2zM507 -20h1v1h-1zM508 -21h2v1h-2zM510 -22h2v1h-2zM512 -23h1v1h-1zM513 -24h2v1h-2zM515 -25h2v1h-2zM517 -26h1v1h-1zM518 -27h2v1h-2zM520 -28h2v1h-2zM522 -29h1v1h-1zM523 -30h3v1h-3zM526 -29h2v1h-2zM528 -28h1v1h-1zM529 -27h2v1h-2zM531 -26h1v1h-1zM532 -25h1v1h-1zM533 -24h2v1h-2zM535 -23h1v1h-1zM536 -22h1v1h-1zM537 -21h2v1h-2zM539 -20h1v1h-1zM540 -19h2v1h-2zM542 -18h1v1h-1zM543 -17h1v1h-1zM544 -16h2v1h-2zM546 -15h1v1h-1zM547 -14h2v1h-2zM549 -13h1v1h-1zM550 -12h1v1h-1zM551 -11h1v2h-1zM552 -9h1v1h-1zM553 -8h1v2h-1zM554 -6h1v2h-1zM555 -4h1v1h-1zM556 -3h1v2h-1zM557 -1h1v1h-1zM558 0h1v2h-1zM559 2h1v1h-1zM560 3h1v2h-1zM561 5h1v2h-1zM562 7h18v1h-18zM580 8h4v1h-4zM584 9h4v1h-4zM588 10h2v1h-2zM590 11h3v1h-3zM593 12h3v1h-3zM596 13h2v1h-2zM598 14h3v1h-3zM601 15h3v1h-3zM604 16h8v1h-8zM612 15h10v1h-10zM622 16h3v1h-3zM625 17h3v1h-3zM628 18h2v1h-2zM630 19h2v1h-2zM632 20h2v1h-2zM634 21h2v1h-2zM636 22h1v1h-1zM637 23h1v1h-1zM638 24h2v1h-2zM640 25h1v1h-1zM641 26h2v1h-2zM643 27h2v1h-2zM645 28h1v1h-1zM646 29h2v1h-2zM648 30h1v1h-1zM649 31h2v1h-2zM651 32h2v1h-2zM653 33h1v1h-1zM654 34h2v1h-2zM656 35h1v1h-1zM657 36h2v1h-2zM659 37h2v1h-2zM661 38h1v1h-1zM662 39h2v1h-2zM664 40h1v1h-1zM665 41h1v1h-1zM666 42h1v1h-1zM667 43h1v1h-1zM668 44h2v1h-2zM670 45h1v1h-1zM671 46h1v1h-1zM672 47h1v1h-1zM673 48h1v1h-1zM674 49h1v1h-1zM675 50h1v1h-1zM676 51h1v1h-1zM677 52h1v1h-1zM678 53h1v1h-1zM679 54h1v1h-1zM680 55h1v1h-1zM681 56h1v1h-1zM682 57h1v1h-1zM683 58h1v1h-1zM684 59h1v1h-1zM685 60h1v1h-1zM686 61h1v1h-1zM687 62h1v1h-1zM688 63h1v1h-1zM689 64h2v1h-2zM691 65h1v1h-1zM692 66h10v1h-10zM702 65h5v1h-5zM707 64h1v1h-1zM708 63h1v1h-1zM709 62h1v1h-1zM710 61h1v1h-1zM711 60h1v1h-1zM712 59h1v1h-1zM713 58h1v1h-1zM714 57h1v1h-1zM715 56h1v1h-1zM716 55h1v1h-1zM717 54h1v1h-1zM718 53h1v1h-1zM719 52h1v1h-1zM720 51h2v1h-2zM722 50h1v1h-1zM723 49h2v1h-2zM725 48h3v1h-3zM728 47h3v1h-3zM731 46h2v1h-2zM733 45h3v1h-3zM736 44h2v1h-2zM738 43h3v1h-3zM741 42h2v1h-2zM743 41h3v1h-3zM746 40h3v1h-3zM749 39h8v1h-8zM757 38h5v1h-5zM762 37h5v1h-5zM767 36h7v1h-7zM774 35h10v1h-10zM784 34h5v1h-5zM789 33h6v1h-6zM795 32h19v1h-19zM814 33h2v1h-2zM816 34h2v1h-2zM818 35h1v1h-1zM819 36h2v1h-2zM821 37h2v1h-2zM823 38h1v1h-1zM824 39h2v1h-2zM826 40h1v1h-1zM827 41h2v1h-2zM829 42h2v1h-2zM831 43h2v1h-2zM833 44h2v1h-2zM835 45h2v1h-2zM837 46h2v1h-2zM839 47h2v1h-2zM841 48h2v1h-2zM843 49h3v1h-3zM846 50h3v1h-3zM849 51h2v1h-2zM851 52h3v1h-3zM854 53h3v1h-3zM857 54h2v1h-2zM859 55h3v1h-3zM862 56h3v1h-3zM865 57h2v1h-2zM867 58h2v1h-2zM869 59h2v1h-2zM871 60h2v1h-2zM873 61h2v1h-2zM875 62h3v1h-3zM878 63h3v1h-3zM881 64h2v1h-2zM883 65h1v1h-1zM884 64h3v1h-3zM887 63h2v1h-2zM889 62h5v1h-5zM894 61h14v1h-14zM908 60h5v1h-5zM913 59h7v1h-7zM920 58h5v1h-5zM925 57h3v1h-3zM928 56h3v1h-3zM931 55h3v1h-3zM934 54h2v1h-2zM936 53h2v1h-2zM938 52h7v1h-7zM945 53h5v1h-5zM950 54h2v1h-2zM952 55h3v1h-3zM955 56h3v1h-3zM958 57h2v1h-2zM960 58h3v1h-3zM963 59h3v1h-3zM966 60h3v1h-3zM969 61h3v1h-3zM972 62h4v1h-4zM976 63h3v1h-3zM979 64h4v1h-4zM983 65h4v1h-4zM987 66h3v1h-3zM990 67h2v1h-2zM992 68h3v1h-3zM995 69h2v1h-2zM997 70h2v1h-2zM999 71h2v1h-2zM1001 72h2v1h-2zM1003 73h2v1h-2zM1005 74h1v1h-1zM1006 75h2v1h-2zM1008 76h2v1h-2zM1010 77h1v1h-1zM1011 78h2v1h-2zM1013 79h2v1h-2zM1015 80h2v1h-2zM1017 81h1v1h-1zM1018 82h2v1h-2zM1020 83h2v1h-2zM1022 84h2v1h-2zM1024 85h1v1h-1zM1025 86h2v1h-2zM1027 87h1v1h-1zM1028 88h2v1h-2zM1030 89h1v1h-1zM1031 90h1v1h-1zM1032 91h1v1h-1zM1033 92h2v1h-2zM1035 93h1v1h-1zM1036 94h1v1h-1zM1037 95h2v1h-2zM1039 96h1v1h-1zM1040 97h1v1h-1zM1041 98h2v1h-2zM1043 99h1v1h-1zM1044 98h1v1h-1zM1045 97h2v1h-2zM1047 96h1v1h-1zM1048 95h1v1h-1zM1049 94h1v1h-1zM1050 93h1v1h-1zM1051 92h1v1h-1zM1052 91h1v1h-1zM1053 89h1v2h-1zM1054 88h1v1h-1zM1055 87h1v1h-1zM1056 86h1v1h-1zM1057 84h1v2h-1zM1058 83h1v1h-1zM1059 82h1v1h-1zM1060 81h1v1h-1zM1061 79h1v2h-1zM1062 78h1v1h-1zM1063 77h1v1h-1zM1064 76h1v1h-1zM1065 75h1v1h-1zM1066 73h1v2h-1zM1067 72h2v1h-2zM1069 71h4v1h-4zM1073 70h3v1h-3zM1076 69h2v1h-2zM1078 68h2v1h-2zM1080 67h1v1h-1zM1081 66h2v1h-2zM1083 65h1v1h-1zM1084 64h1v1h-1zM1085 62h1v2h-1zM1086 60h1v2h-1zM1087 58h1v2h-1zM1088 56h1v2h-1zM1089 55h1v1h-1zM1090 53h1v2h-1zM1091 51h1v2h-1zM1092 50h3v1h-3zM1095 49h2v1h-2zM1097 48h5v1h-5zM1102 49h2v1h-2zM1104 50h2v1h-2zM1106 51h2v1h-2zM1108 52h2v1h-2zM1110 53h1v1h-1zM1111 54h1v1h-1zM1112 55h2v1h-2zM1114 56h1v1h-1zM1115 57h1v1h-1zM1116 58h2v1h-2zM1118 59h2v1h-2zM1120 60h1v1h-1zM1121 61h2v1h-2zM1123 62h1v1h-1z" fill="#3cb371" shape-rendering="crispEdges"/>
<path d="M3 166h1v1h-1zM4 167h1v1h-1zM5 168h1v1h-1zM6 169h1v1h-1zM7 170h1v1h-1zM8 171h1v1h-1zM9 172h1v1h-1zM10 173h1v1h-1zM11 174h1v2h-1zM12 176h1v1h-1zM13 177h1v1h-1zM14 178h1v1h-1zM15 179h1v1h-1zM16 180h1v1h-1zM17 181h1v1h-1zM18 182h1v1h-1zM19 183h1v2h-1zM20 185h1v1h-1zM21 186h1v1h-1zM22 187h1v1h-1zM23 188h1v1h-1zM24 189h1v1h-1zM25 190h1v1h-1zM26 191h1v2h-1zM27 193h1v1h-1zM28 194h1v1h-1zM29 195h1v1h-1zM30 196h1v2h-1zM31 198h1v1h-1zM32 199h1v1h-1zM33 200h1v1h-1zM34 201h1v2h-1zM35 203h1v1h-1zM36 204h1v1h-1zM37 205h1v1h-1zM38 206h1v2h-1zM39 208h1v1h-1zM40 209h1v1h-1zM41 210h1v1h-1zM42 211h1v1h-1zM43 212h1v1h-1zM44 213h1v2h-1zM45 215h1v1h-1zM46 216h1v1h-1zM47 217h1v1h-1zM48 218h1v1h-1zM49 219h1v2h-1zM50 221h1v1h-1zM51 222h1v1h-1zM52 223h1v1h-1zM53 224h1v1h-1zM54 225h1v1h-1zM55 226h1v2h-1zM56 228h1v1h-1zM57 229h1v1h-1zM58 230h1v1h-1zM59 231h1v1h-1zM60 232h1v1h-1zM61 233h1v1h-1zM62 234h1v1h-1zM63 235h1v2h-1zM64 237h1v1h-1zM65 238h1v1h-1zM66 239h1v1h-1zM67 240h1v1h-1zM68 241h1v1h-1zM69 242h1v1h-1zM70 243h1v1h-1zM71 244h1v2h-1zM72 246h1v1h-1zM73 247h1v1h-1zM74 248h1v1h-1zM75 249h1v1h-1zM76 250h1v1h-1zM77 251h1v1h-1zM78 252h1v1h-1zM79 253h2v1h-2zM81 254h1v1h-1zM82 255h1v1h-1zM83 256h2v1h-2zM85 257h1v1h-1zM86 258h2v1h-2zM88 259h1v1h-1zM89 260h2v1h-2zM91 261h18v1h-18zM109 262h5v1h-5zM114 263h3v1h-3zM117 262h5v1h-5zM122 261h9v1h-9zM131 260h9v1h-9zM140 259h4v1h-4zM144 258h3v1h-3zM147 257h3v1h-3zM150 256h4v1h-4zM154 255h5v1h-5zM159 254h27v1h-27zM186 255h12v1h-12zM198 254h6v1h-6zM204 253h3v1h-3zM207 252h4v1h-4zM211 251h5v1h-5zM216 250h6v1h-6zM222 249h9v1h-9zM231 248h10v1h-10zM241 249h4v1h-4zM245 250h2v1h-2zM247 251h2v1h-2zM249 252h2v1h-2zM251 253h2v1h-2zM253 254h2v1h-2zM255 255h2v1h-2zM257 256h3v1h-3zM260 257h3v1h-3zM263 258h2v1h-2zM265 259h3v1h-3zM268 260h2v1h-2zM270 261h3v1h-3zM273 262h3v1h-3zM276 263h3v1h-3zM279 264h3v1h-3zM282 265h3v1h-3zM285 266h3v1h-3zM288 267h3v1h-3zM291 268h4v1h-4zM295 269h4v1h-4zM299 270h2v1h-2zM301 271h2v1h-2zM303 272h2v1h-2zM305 273h1v1h-1zM306 274h2v1h-2zM308 275h2v1h-2zM310 276h3v1h-3zM313 277h3v1h-3zM316 278h4v1h-4zM320 279h5v1h-5zM325 280h41v1h-41zM366 279h6v1h-6zM372 278h3v1h-3zM375 277h3v1h-3zM378 276h3v1h-3zM381 275h2v1h-2zM383 274h1v1h-1zM384 273h2v1h-2zM386 272h2v1h-2zM388 271h1v1h-1zM389 270h2v1h-2zM391 269h2v1h-2zM393 268h2v1h-2zM395 267h2v1h-2zM397 266h1v1h-1zM398 265h2v1h-2zM400 264h2v1h-2zM402 263h2v1h-2zM404 262h1v1h-1zM405 261h1v1h-1zM406 260h1v1h-1zM407 259h1v1h-1zM408 258h1v1h-1zM409 257h1v1h-1zM410 256h1v1h-1zM411 255h1v1h-1zM412 253h1v2h-1zM413 252h1v1h-1zM414 251h1v1h-1zM415 250h1v1h-1zM416 248h1v2h-1zM417 247h1v1h-1zM418 246h1v1h-1zM419 245h1v1h-1zM420 244h1v1h-1zM421 243h1v1h-1zM422 242h1v1h-1zM423 241h1v1h-1zM424 240h2v1h-2zM426 239h1v1h-1zM427 238h1v1h-1zM428 237h1v1h-1zM429 236h2v1h-2zM431 235h1v1h-1zM432 234h1v1h-1zM433 233h1v1h-1zM434 232h2v1h-2zM436 231h1v1h-1zM437 230h1v1h-1zM438 229h1v1h-1zM439 228h1v1h-1zM440 227h2v1h-2zM442 226h1v1h-1zM443 225h1v1h-1zM444 224h1v1h-1zM445 223h1v1h-1zM446 222h1v1h-1zM447 221h1v1h-1zM448 220h1v1h-1zM449 219h1v1h-1zM450 218h1v1h-1zM451 217h1v1h-1zM452 216h1v1h-1zM453 215h1v1h-1zM454 214h1v1h-1zM455 212h1v2h-1zM456 211h1v1h-1zM457 210h1v1h-1zM458 208h1v2h-1zM459 207h1v1h-1zM460 206h1v1h-1zM461 205h1v1h-1zM462 203h1v2h-1zM463 201h1v2h-1zM464 200h1v1h-1zM465 198h1v2h-1zM466 197h1v1h-1zM467 195h1v2h-1zM468 194h1v1h-1zM469 192h1v2h-1zM470 191h1v1h-1zM471 189h1v2h-1zM472 188h1v1h-1zM473 186h1v2h-1zM474 185h1v1h-1zM475 183h1v2h-1zM476 182h1v1h-1zM477 180h1v2h-1zM478 179h1v1h-1zM479 177h1v2h-1zM480 176h1v1h-1zM481 174h1v2h-1zM482 173h1v1h-1zM483 171h1v2h-1zM484 170h1v1h-1zM485 168h1v2h-1zM486 167h1v1h-1zM487 166h1v1h-1zM488 164h1v2h-1zM489 163h1v1h-1zM490 161h1v2h-1zM491 160h1v1h-1zM492 159h1v1h-1zM493 157h1v2h-1zM494 156h1v1h-1zM495 154h1v2h-1zM496 153h1v1h-1zM497 152h1v1h-1zM498 150h1v2h-1zM499 149h1v1h-1zM500 148h1v1h-1zM501 146h1v2h-1zM502 145h1v1h-1zM503 143h1v2h-1zM504 142h1v1h-1zM505 141h1v1h-1zM506 139h1v2h-1zM507 138h1v1h-1zM508 136h1v2h-1zM509 135h1v1h-1zM510 134h1v1h-1zM511 132h1v2h-1zM512 131h1v1h-1zM513 130h1v1h-1zM514 128h1v2h-1zM515 127h1v1h-1zM516 126h1v1h-1zM517 124h1v2h-1zM518 123h1v1h-1zM519 121h1v2h-1zM520 120h1v1h-1zM521 118h1v2h-1zM522 117h1v1h-1zM523 115h1v2h-1zM524 114h1v1h-1zM525 113h1v1h-1zM526 111h1v2h-1zM527 110h1v1h-1zM528 109h1v1h-1zM529 108h1v1h-1zM530 106h1v2h-1zM531 105h1v1h-1zM532 104h1v1h-1zM533 103h1v1h-1zM534 102h1v1h-1zM535 100h1v2h-1zM536 99h1v1h-1zM537 98h1v1h-1zM538 97h1v1h-1zM539 96h1v1h-1zM540 95h1v1h-1zM541 94h1v1h-1zM542 93h2v1h-2zM544 92h1v1h-1zM545 91h1v1h-1zM546 90h2v1h-2zM548 89h1v1h-1zM549 88h2v1h-2zM551 87h1v1h-1zM552 86h2v1h-2zM554 85h1v1h-1zM555 84h3v1h-3zM558 83h4v1h-4zM562 82h20v1h-20zM582 81h7v1h-7zM589 80h3v1h-3zM592 79h3v1h-3zM595 78h4v1h-4zM599 77h16v1h-16zM615 78h4v1h-4zM619 79h3v1h-3zM622 80h2v1h-2zM624 81h3v1h-3zM627 82h3v1h-3zM630 83h2v1h-2zM632 84h3v1h-3zM635 85h3v1h-3zM638 86h3v1h-3zM641 87h2v1h-2zM643 88h2v1h-2zM645 89h2v1h-2zM647 90h2v1h-2zM649 91h2v1h-2zM651 92h2v1h-2zM653 93h2v1h-2zM655 94h2v1h-2zM657 95h2v1h-2zM659 96h2v1h-2zM661 97h2v1h-2zM663 98h3v1h-3zM666 99h2v1h-2zM668 100h2v1h-2zM670 101h2v1h-2zM672 102h2v1h-2zM674 103h3v1h-3zM677 104h2v1h-2zM679 105h4v1h-4zM683 106h4v1h-4zM687 107h7v1h-7zM694 108h14v1h-14zM708 107h4v1h-4zM712 106h4v1h-4zM716 105h3v1h-3zM719 104h2v1h-2zM721 103h3v1h-3zM724 102h3v1h-3zM727 101h2v1h-2zM729 100h3v1h-3zM732 99h3v1h-3zM735 98h2v1h-2zM737 97h3v1h-3zM740 96h3v1h-3zM743 95h2v1h-2zM745 94h4v1h-4zM749 93h5v1h-5zM754 92h8v1h-8zM762 91h11v1h-11zM773 90h6v1h-6zM779 89h4v1h-4zM783 88h4v1h-4zM787 87h4v1h-4zM791 86h3v1h-3zM794 85h4v1h-4zM798 84h4v1h-4zM802 83h4v1h-4zM806 82h3v1h-3zM809 81h4v1h-4zM813 80h3v1h-3zM816 79h3v1h-3zM819 78h3v1h-3zM822 77h3v1h-3zM825 76h3v1h-3zM828 75h4v1h-4zM832 74h5v1h-5zM837 73h5v1h-5zM842 72h5v1h-5zM847 71h8v1h-8zM855 72h4v1h-4zM859 73h5v1h-5zM864 74h6v1h-6zM870 75h7v1h-7zM877 76h5v1h-5zM882 77h3v1h-3zM885 78h3v1h-3zM888 79h3v1h-3zM891 80h4v1h-4zM895 81h5v1h-5zM900 82h4v1h-4zM904 83h4v1h-4zM908 84h4v1h-4zM912 85h4v1h-4zM916 86h4v1h-4zM920 87h4v1h-4zM924 88h4v1h-4zM928 89h4v1h-4zM932 90h3v1h-3zM935 91h4v1h-4zM939 92h3v1h-3zM942 93h3v1h-3zM945 94h4v1h-4zM949 95h3v1h-3zM952 96h3v1h-3zM955 97h3v1h-3zM958 98h4v1h-4zM962 99h6v1h-6zM968 100h5v1h-5zM973 101h4v1h-4zM977 102h4v1h-4zM981 103h4v1h-4zM985 104h4v1h-4zM989 105h5v1h-5zM994 106h5v1h-5zM999 107h6v1h-6zM1005 108h7v1h-7zM1012 109h8v1h-8zM1020 110h4v1h-4zM1024 111h4v1h-4zM1028 112h2v1h-2zM1030 113h3v1h-3zM1033 114h2v1h-2zM1035 115h3v1h-3zM1038 116h4v1h-4zM1042 117h3v1h-3zM1045 118h3v1h-3zM1048 119h3v1h-3zM1051 120h2v1h-2zM1053 121h2v1h-2zM1055 122h2v1h-2zM1057 123h2v1h-2zM1059 124h2v1h-2zM1061 125h1v1h-1zM1062 126h2v1h-2zM1064 127h2v1h-2zM1066 128h1v1h-1zM1067 129h2v1h-2zM1069 130h1v1h-1zM1070 131h2v1h-2zM1072 132h2v1h-2zM1074 133h1v1h-1zM1075 134h1v1h-1zM1076 135h2v1h-2zM1078 136h1v1h-1zM1079 137h1v1h-1zM1080 138h1v1h-1zM1081 139h1v1h-1zM1082 140h1v1h-1zM1083 141h1v1h-1zM1084 142h2v1h-2zM1086 143h1v1h-1zM1087 144h1v1h-1zM1088 145h1v1h-1zM1089 146h1v1h-1zM1090 147h1v1h-1zM1091 148h2v1h-2zM1093 149h2v1h-2zM1095 150h2v1h-2zM1097 151h2v1h-2zM1099 152h2v1h-2zM1101 153h1v1h-1zM1102 154h2v1h-2zM1104 155h2v1h-2zM1106 156h1v1h-1zM1107 157h2v1h-2zM1109 158h2v1h-2zM1111 159h2v1h-2zM1113 160h2v1h-2zM1115 161h2v1h-2zM1117 162h2v1h-2zM1119 163h1v1h-1zM1120 164h2v1h-2zM1122 165h2v1h-2z" fill="#3cb371" shape-rendering="crispEdges"/>
<path d="M3 310h1v1h-1zM4 311h1v1h-1zM5 312h1v1h-1zM6 313h1v1h-1zM7 314h1v1h-1zM8 315h1v1h-1zM9 316h1v1h-1zM10 317h1v1h-1zM11 318h1v1h-1zM12 319h1v1h-1zM13 320h2v1h-2zM15 321h1v1h-1zM16 322h2v1h-2zM18 323h2v1h-2zM20 324h1v1h-1zM21 325h2v1h-2zM23 326h1v1h-1zM24 327h2v1h-2zM26 328h2v1h-2zM28 329h1v1h-1zM29 330h2v1h-2zM31 331h2v1h-2zM33 332h2v1h-2zM35 333h2v1h-2zM37 334h2v1h-2zM39 335h2v1h-2zM41 336h2v1h-2zM43 337h1v2h-1zM44 339h1v2h-1zM45 341h1v2h-1zM46 343h1v1h-1zM47 344h1v2h-1zM48 346h1v2h-1zM49 348h1v2h-1zM50 350h1v1h-1zM51 351h1v2h-1zM52 353h1v1h-1zM53 354h1v1h-1zM54 355h1v1h-1zM55 356h2v1h-2zM57 357h2v1h-2zM59 358h2v1h-2zM61 359h2v1h-2zM63 360h3v1h-3zM66 361h3v1h-3zM69 362h7v1h-7zM76 361h1v1h-1zM77 359h1v2h-1zM78 358h1v1h-1zM79 357h1v1h-1zM80 355h1v2h-1zM81 353h1v2h-1zM82 351h1v2h-1zM83 349h1v2h-1zM84 347h1v2h-1zM85 345h1v2h-1zM86 344h1v1h-1zM87 342h1v2h-1zM88 340h1v2h-1zM89 339h1v1h-1zM90 337h1v2h-1zM91 335h4v1h-4zM91 336h1v1h-1zM95 334h4v1h-4zM99 333h6v1h-6zM105 332h6v1h-6zM111 331h12v1h-12zM123 332h15v1h-15zM138 331h7v1h-7zM145 330h6v1h-6zM151 329h8v1h-8zM159 328h22v1h-22zM181 329h6v1h-6zM187 330h6v1h-6zM193 331h11v1h-11zM204 329h1v2h-1zM205 328h1v1h-1zM206 326h1v2h-1zM207 324h1v2h-1zM208 323h1v1h-1zM209 321h1v2h-1zM210 319h1v2h-1zM211 318h1v1h-1zM212 317h2v1h-2zM214 316h1v1h-1zM215 315h1v1h-1zM216 314h2v1h-2zM218 313h1v1h-1zM219 312h2v1h-2zM221 311h2v1h-2zM223 310h2v1h-2zM225 309h2v1h-2zM227 308h2v1h-2zM229 307h1v1h-1zM230 306h2v1h-2zM232 305h2v1h-2zM234 304h1v1h-1zM235 303h1v1h-1zM236 304h2v1h-2zM238 305h2v1h-2zM240 306h2v1h-2zM242 307h1v1h-1zM243 308h4v1h-4zM247 309h3v1h-3zM250 310h5v1h-5zM255 311h4v1h-4zM259 312h5v1h-5zM264 313h4v1h-4zM268 314h3v1h-3zM271 315h4v1h-4zM275 316h4v1h-4zM279 315h7v1h-7zM286 314h4v1h-4zM290 313h4v1h-4zM294 312h4v1h-4zM298 311h4v1h-4zM302 310h4v1h-4zM306 309h3v1h-3zM309 308h3v1h-3zM312 307h2v1h-2zM314 306h2v1h-2zM316 305h1v1h-1zM317 304h1v1h-1zM318 303h1v1h-1zM319 302h1v1h-1zM320 301h1v1h-1zM321 300h1v1h-1zM322 299h1v1h-1zM323 298h1v1h-1zM324 297h3v1h-3zM327 296h3v1h-3zM330 295h4v1h-4zM334 294h3v1h-3zM337 293h27v1h-27zM364 294h1v1h-1zM365 295h1v1h-1zM366 296h2v1h-2zM368 297h1v1h-1zM369 298h1v1h-1zM370 299h1v1h-1zM371 300h1v1h-1zM372 301h1v1h-1zM373 302h1v1h-1zM374 303h1v1h-1zM375 304h1v1h-1zM376 305h1v2h-1zM377 307h1v1h-1zM378 308h1v1h-1zM379 309h1v1h-1zM380 310h1v1h-1zM381 311h1v1h-1zM382 312h1v1h-1zM383 313h1v1h-1zM384 314h1v1h-1zM385 315h1v2h-1zM386 317h1v1h-1zM387 318h1v2h-1zM388 320h1v1h-1zM389 321h1v2h-1zM390 322h1v1h-1zM391 323h2v1h-2zM393 324h1v1h-1zM394 325h2v1h-2zM396 326h2v1h-2zM398 327h2v1h-2zM400 328h2v1h-2zM402 329h2v1h-2zM404 330h1v1h-1zM405 331h1v1h-1zM406 332h1v2h-1zM407 334h1v1h-1zM408 335h1v1h-1zM409 336h1v1h-1zM410 337h1v1h-1zM411 338h1v1h-1zM412 339h1v1h-1zM413 340h1v1h-1zM414 341h1v1h-1zM415 342h1v1h-1zM416 343h2v1h-2zM418 344h1v1h-1zM419 345h3v1h-3zM422 346h10v1h-10zM432 345h5v1h-5zM437 344h2v1h-2zM439 343h3v1h-3zM442 342h4v1h-4zM446 343h4v1h-4zM450 344h2v1h-2zM452 343h3v1h-3zM455 342h3v1h-3zM458 341h8v1h-8zM466 340h3v1h-3zM469 339h2v1h-2zM471 338h1v1h-1zM472 337h1v1h-1zM473 336h2v1h-2zM475 335h1v1h-1zM476 334h2v1h-2zM478 333h1v1h-1zM479 332h2v1h-2zM481 331h1v1h-1zM482 330h2v1h-2zM484 329h1v1h-1zM485 327h1v2h-1zM486 326h1v1h-1zM487 325h1v1h-1zM488 323h1v2h-1zM489 322h1v1h-1zM490 321h1v1h-1zM491 319h1v2h-1zM492 318h1v1h-1zM493 316h1v2h-1zM494 315h1v1h-1zM495 313h1v2h-1zM496 312h1v1h-1zM497 310h1v2h-1zM498 309h1v1h-1zM499 307h1v2h-1zM500 305h1v2h-1zM501 303h1v2h-1zM502 301h1v2h-1zM503 299h1v2h-1zM504 296h1v3h-1zM505 294h1v2h-1zM506 292h1v2h-1zM507 290h1v2h-1zM508 287h1v3h-1zM509 285h1v2h-1zM510 282h1v3h-1zM511 279h1v3h-1zM512 277h1v2h-1zM513 274h1v3h-1zM514 271h1v3h-1zM515 269h1v2h-1zM516 266h1v3h-1zM517 263h1v3h-1zM518 260h1v3h-1zM519 257h1v3h-1zM520 254h1v3h-1zM521 251h1v3h-1zM522 248h1v3h-1zM523 245h1v3h-1zM524 242h1v3h-1zM525 239h1v3h-1zM526 236h1v3h-1zM527 233h1v3h-1zM528 230h1v3h-1zM529 227h1v3h-1zM530 224h1v3h-1zM531 221h1v3h-1zM532 218h1v3h-1zM533 216h1v2h-1zM534 214h1v2h-1zM535 212h1v2h-1zM536 209h1v3h-1zM537 207h1v2h-1zM538 205h1v2h-1zM539 202h1v3h-1zM540 201h1v1h-1zM541 199h1v2h-1zM542 197h1v2h-1zM543 195h1v2h-1zM544 193h1v2h-1zM545 191h1v2h-1zM546 189h1v2h-1zM547 187h1v2h-1zM548 185h1v2h-1zM549 183h1v2h-1zM550 181h1v2h-1zM551 179h1v2h-1zM552 177h1v2h-1zM553 175h1v2h-1zM554 173h1v2h-1zM555 171h1v2h-1zM556 169h1v2h-1zM557 167h1v2h-1zM558 166h1v1h-1zM559 164h1v2h-1zM560 162h1v2h-1zM561 161h1v1h-1zM562 159h1v2h-1zM563 158h18v1h-18zM581 157h2v1h-2zM583 156h2v1h-2zM585 155h2v1h-2zM587 154h1v1h-1zM588 153h1v1h-1zM589 152h1v1h-1zM590 151h1v1h-1zM591 150h1v1h-1zM592 149h1v1h-1zM593 148h1v1h-1zM594 147h1v1h-1zM595 146h1v1h-1zM596 144h1v2h-1zM597 143h1v1h-1zM598 142h1v1h-1zM599 141h1v1h-1zM600 140h1v1h-1zM601 139h1v1h-1zM602 138h1v1h-1zM603 137h7v1h-7zM610 138h2v1h-2zM612 139h2v1h-2zM614 140h2v1h-2zM616 141h2v1h-2zM618 142h2v1h-2zM620 143h2v1h-2zM622 144h3v1h-3zM625 145h2v1h-2zM627 146h7v1h-7zM634 147h6v1h-6zM640 148h5v1h-5zM645 149h3v1h-3zM648 150h3v1h-3zM651 151h3v1h-3zM654 152h3v1h-3zM657 153h3v1h-3zM660 154h2v1h-2zM662 155h2v1h-2zM664 156h3v1h-3zM667 157h9v1h-9zM676 156h2v1h-2zM678 155h3v1h-3zM681 154h2v1h-2zM683 153h3v1h-3zM686 152h4v1h-4zM690 151h19v1h-19zM709 152h1v1h-1zM710 153h2v1h-2zM712 154h2v1h-2zM714 155h5v1h-5zM719 156h5v1h-5zM724 155h3v1h-3zM727 154h2v1h-2zM729 153h2v1h-2zM731 152h3v1h-3zM734 151h2v1h-2zM736 150h2v1h-2zM738 149h4v1h-4zM742 148h17v1h-17zM759 147h7v1h-7zM766 146h6v1h-6zM772 145h3v1h-3zM775 144h3v1h-3zM778 143h2v1h-2zM780 142h3v1h-3zM783 141h3v1h-3zM786 140h4v1h-4zM790 139h3v1h-3zM793 138h3v1h-3zM796 137h3v1h-3zM799 136h3v1h-3zM802 135h2v1h-2zM804 134h1v1h-1zM805 133h2v1h-2zM807 132h2v1h-2zM809 131h2v1h-2zM811 130h1v1h-1zM812 129h1v1h-1zM813 127h1v2h-1zM814 126h1v1h-1zM815 125h1v1h-1zM816 124h1v1h-1zM817 123h1v1h-1zM818 122h1v1h-1zM819 120h1v2h-1zM820 119h1v1h-1zM821 118h1v1h-1zM822 117h1v1h-1zM823 115h1v2h-1zM824 114h1v1h-1zM825 113h1v1h-1zM826 112h1v1h-1zM827 111h1v1h-1zM828 110h1v1h-1zM829 109h1v1h-1zM830 108h1v1h-1zM831 107h1v1h-1zM832 106h1v1h-1zM833 105h1v1h-1zM834 104h1v1h-1zM835 103h1v1h-1zM836 102h1v1h-1zM837 101h1v1h-1zM838 100h1v1h-1zM839 99h1v1h-1zM840 98h1v1h-1zM841 97h1v1h-1zM842 96h2v1h-2zM844 95h1v1h-1zM845 94h2v1h-2zM847 93h1v1h-1zM848 92h1v1h-1zM849 91h2v1h-2zM851 90h9v1h-9zM860 89h13v1h-13zM873 88h7v1h-7zM880 87h3v1h-3zM883 88h1v1h-1zM884 89h1v1h-1zM885 90h1v1h-1zM886 91h1v1h-1zM887 92h1v1h-1zM888 93h1v1h-1zM889 94h1v2h-1zM890 96h1v1h-1zM891 97h1v1h-1zM892 98h1v1h-1zM893 99h1v1h-1zM894 100h1v1h-1zM895 101h2v1h-2zM897 102h1v1h-1zM898 103h1v1h-1zM899 104h1v1h-1zM900 105h2v1h-2zM902 106h2v1h-2zM904 107h2v1h-2zM906 108h1v1h-1zM907 109h2v1h-2zM909 110h3v1h-3zM912 111h2v1h-2zM914 112h2v1h-2zM916 113h3v1h-3zM919 114h3v1h-3zM922 115h2v1h-2zM924 116h2v1h-2zM926 117h2v1h-2zM928 118h1v1h-1zM929 119h2v1h-2zM931 120h1v1h-1zM932 121h1v1h-1zM933 122h1v1h-1zM934 123h1v1h-1zM935 124h2v1h-2zM937 125h1v1h-1zM938 126h1v1h-1zM939 127h1v1h-1zM940 128h1v1h-1zM941 129h2v1h-2zM943 130h1v1h-1zM944 131h2v1h-2zM946 132h1v1h-1zM947 133h3v1h-3zM950 134h4v1h-4zM954 135h3v1h-3zM957 136h4v1h-4zM961 137h3v1h-3zM964 138h5v1h-5zM969 139h6v1h-6zM975 140h5v1h-5zM980 141h5v1h-5zM985 142h7v1h-7zM992 143h9v1h-9zM1001 142h9v1h-9zM1010 141h6v1h-6zM1016 140h6v1h-6zM1022 139h5v1h-5zM1027 138h5v1h-5zM1032 137h4v1h-4zM1036 136h3v1h-3zM1039 135h3v1h-3zM1042 136h1v1h-1zM1043 137h1v1h-1zM1044 138h1v1h-1zM1045 139h1v2h-1zM1046 141h1v2h-1zM1047 143h1v1h-1zM1048 144h1v2h-1zM1049 146h1v1h-1zM1050 147h1v2h-1zM1051 149h1v2h-1zM1052 151h1v2h-1zM1053 153h1v2h-1zM1054 155h1v2h-1zM1055 157h1v2h-1zM1056 159h1v2h-1zM1057 161h1v2h-1zM1058 163h1v2h-1zM1059 165h1v3h-1zM1060 168h1v3h-1zM1061 171h1v2h-1zM1062 173h1v3h-1zM1063 176h1v3h-1zM1064 179h1v3h-1zM1065 182h1v2h-1zM1066 184h1v3h-1zM1067 187h1v1h-1zM1068 188h1v2h-1zM1069 190h1v1h-1zM1070 191h1v2h-1zM1071 193h1v1h-1zM1072 194h1v2h-1zM1073 196h1v1h-1zM1074 197h1v2h-1zM1075 199h1v2h-1zM1076 201h1v1h-1zM1077 202h1v2h-1zM1078 204h1v2h-1zM1079 206h1v2h-1zM1080 208h1v1h-1zM1081 209h1v2h-1zM1082 211h1v2h-1zM1083 213h1v3h-1zM1084 216h1v4h-1zM1085 220h1v3h-1zM1086 223h1v3h-1zM1087 226h1v3h-1zM1088 229h1v4h-1zM1089 233h1v3h-1zM1090 236h1v3h-1zM1091 239h1v2h-1zM1092 241h1v2h-1zM1093 243h1v2h-1zM1094 245h1v2h-1zM1095 247h1v2h-1zM1096 249h1v2h-1zM1097 251h1v2h-1zM1098 253h1v2h-1zM1099 255h1v1h-1zM1100 256h1v1h-1zM1101 257h2v1h-2zM1103 258h1v1h-1zM1104 259h1v1h-1zM1105 260h1v1h-1zM1106 261h2v1h-2zM1108 262h2v1h-2zM1110 263h2v1h-2zM1112 264h2v1h-2zM1114 265h2v1h-2zM1116 266h3v1h-3zM1119 267h3v1h-3zM1122 268h2v1h-2z" fill="#3cb371" shape-rendering="crispEdges"/>
<g shape-rendering="crispEdges">
<rect x="2" y="209" width="3" height="1" fill="#fff"/>
<rect x="3" y="208" width="1" height="3" fill="#fff"/>
<rect x="10" y="235" width="3" height="1" fill="#fff"/>
<rect x="11" y="234" width="1" height="3" fill="#fff"/>
<rect x="18" y="307" width="3" height="1" fill="#fff"/>
<rect x="19" y="306" width="1" height="3" fill="#fff"/>
<rect x="26" y="305" width="3" height="1" fill="#fff"/>
<rect x="27" y="304" width="1" height="3" fill="#fff"/>
<rect x="34" y="303" width="3" height="1" fill="#fff"/>
<rect x="35" y="302" width="1" height="3" fill="#fff"/>
<rect x="42" y="301" width="3" height="1" fill="#fff"/>
<rect x="43" y="300" width="1" height="3" fill="#fff"/>
<rect x="50" y="239" width="3" height="1" fill="#fff"/>
<rect x="51" y="238" width="1" height="3" fill="#fff"/>
<rect x="58" y="242" width="3" height="1" fill="#fff"/>
<rect x="59" y="241" width="1" height="3" fill="#fff"/>
<rect x="66" y="251" width="3" height="1" fill="#fff"/>
<rect x="67" y="250" width="1" height="3" fill="#fff"/>
<rect x="74" y="258" width="3" height="1" fill="#fff"/>
<rect x="75" y="257" width="1" height="3" fill="#fff"/>
<rect x="82" y="381" width="3" height="1" fill="#fff"/>
<rect x="83" y="380" width="1" height="3" fill="#fff"/>
<rect x="90" y="377" width="3" height="1" fill="#fff"/>
<rect x="91" y="376" width="1" height="3" fill="#fff"/>
<rect x="98" y="364" width="3" height="1" fill="#fff"/>
<rect x="99" y="363" width="1" height="3" fill="#fff"/>
<rect x="106" y="345" width="3" height="1" fill="#fff"/>
<rect x="107" y="344" width="1" height="3" fill="#fff"/>
<rect x="114" y="329" width="3" height="1" fill="#fff"/>
<rect x="115" y="328" width="1" height="3" fill="#fff"/>
<rect x="122" y="313" width="3" height="1" fill="#fff"/>
<rect x="123" y="312" width="1" height="3" fill="#fff"/>
<rect x="130" y="299" width="3" height="1" fill="#fff"/>
<rect x="131" y="298" width="1" height="3" fill="#fff"/>
<rect x="138" y="286" width="3" height="1" fill="#fff"/>
<rect x="139" y="285" width="1" height="3" fill="#fff"/>
<rect x="146" y="275" width="3" height="1" fill="#fff"/>
<rect x="147" y="274" width="1" height="3" fill="#fff"/>
<rect x="154" y="264" width="3" height="1" fill="#fff"/>
<rect x="155" y="263" width="1" height="3" fill="#fff"/>
<rect x="162" y="255" width="3" height="1" fill="#fff"/>
<rect x="163" y="254" width="1" height="3" fill="#fff"/>
<rect x="170" y="158" width="3" height="1" fill="#fff"/>
<rect x="171" y="157" width="1" height="3" fill="#fff"/>
<rect x="178" y="161" width="3" height="1" fill="#fff"/>
<rect x="179" y="160" width="1" height="3" fill="#fff"/>
<rect x="186" y="165" width="3" height="1" fill="#fff"/>
<rect x="187" y="164" width="1" height="3" fill="#fff"/>
<rect x="194" y="172" width="3" height="1" fill="#fff"/>
<rect x="195" y="171" width="1" height="3" fill="#fff"/>
<rect x="202" y="184" width="3" height="1" fill="#fff"/>
<rect x="203" y="183" width="1" height="3" fill="#fff"/>
<rect x="210" y="195" width="3" height="1" fill="#fff"/>
<rect x="211" y="194" width="1" height="3" fill="#fff"/>
<rect x="218" y="205" width="3" height="1" fill="#fff"/>
<rect x="219" y="204" width="1" height="3" fill="#fff"/>
<rect x="226" y="214" width="3" height="1" fill="#fff"/>
<rect x="227" y="213" width="1" height="3" fill="#fff"/>
<rect x="234" y="222" width="3" height="1" fill="#fff"/>
<rect x="235" y="221" width="1" height="3" fill="#fff"/>
<rect x="242" y="229" width="3" height="1" fill="#fff"/>
<rect x="243" y="228" width="1" height="3" fill="#fff"/>
<rect x="250" y="236" width="3" height="1" fill="#fff"/>
<rect x="251" y="235" width="1" height="3" fill="#fff"/>
<rect x="258" y="242" width="3" height="1" fill="#fff"/>
<rect x="259" y="241" width="1" height="3" fill="#fff"/>
<rect x="266" y="249" width="3" height="1" fill="#fff"/>
<rect x="267" y="248" width="1" height="3" fill="#fff"/>
<rect x="274" y="256" width="3" height="1" fill="#fff"/>
<rect x="275" y="255" width="1" height="3" fill="#fff"/>
<rect x="282" y="262" width="3" height="1" fill="#fff"/>
<rect x="283" y="261" width="1" height="3" fill="#fff"/>
<rect x="290" y="267" width="3" height="1" fill="#fff"/>
<rect x="291" y="266" width="1" height="3" fill="#fff"/>
<rect x="298" y="305" width="3" height="1" fill="#fff"/>
<rect x="299" y="304" width="1" height="3" fill="#fff"/>
<rect x="306" y="304" width="3" height="1" fill="#fff"/>
<rect x="307" y="303" width="1" height="3" fill="#fff"/>
<rect x="314" y="303" width="3" height="1" fill="#fff"/>
<rect x="315" y="302" width="1" height="3" fill="#fff"/>
<rect x="322" y="302" width="3" height="1" fill="#fff"/>
<rect x="323" y="301" width="1" height="3" fill="#fff"/>
<rect x="330" y="301" width="3" height="1" fill="#fff"/>
<rect x="331" y="300" width="1" height="3" fill="#fff"/>
<rect x="338" y="300" width="3" height="1" fill="#fff"/>
<rect x="339" y="299" width="1" height="3" fill="#fff"/>
<rect x="346" y="299" width="3" height="1" fill="#fff"/>
<rect x="347" y="298" width="1" height="3" fill="#fff"/>
<rect x="354" y="298" width="3" height="1" fill="#fff"/>
<rect x="355" y="297" width="1" height="3" fill="#fff"/>
<rect x="362" y="297" width="3" height="1" fill="#fff"/>
<rect x="363" y="296" width="1" height="3" fill="#fff"/>
<rect x="370" y="296" width="3" height="1" fill="#fff"/>
<rect x="371" y="295" width="1" height="3" fill="#fff"/>
<rect x="378" y="292" width="3" height="1" fill="#fff"/>
<rect x="379" y="291" width="1" height="3" fill="#fff"/>
<rect x="386" y="285" width="3" height="1" fill="#fff"/>
<rect x="387" y="284" width="1" height="3" fill="#fff"/>
<rect x="394" y="274" width="3" height="1" fill="#fff"/>
<rect x="395" y="273" width="1" height="3" fill="#fff"/>
<rect x="402" y="257" width="3" height="1" fill="#fff"/>
<rect x="403" y="256" width="1" height="3" fill="#fff"/>
<rect x="410" y="243" width="3" height="1" fill="#fff"/>
<rect x="411" y="242" width="1" height="3" fill="#fff"/>
<rect x="418" y="223" width="3" height="1" fill="#fff"/>
<rect x="419" y="222" width="1" height="3" fill="#fff"/>
<rect x="426" y="199" width="3" height="1" fill="#fff"/>
<rect x="427" y="198" width="1" height="3" fill="#fff"/>
<rect x="434" y="179" width="3" height="1" fill="#fff"/>
<rect x="435" y="178" width="1" height="3" fill="#fff"/>
<rect x="442" y="164" width="3" height="1" fill="#fff"/>
<rect x="443" y="163" width="1" height="3" fill="#fff"/>
<rect x="450" y="159" width="3" height="1" fill="#fff"/>
<rect x="451" y="158" width="1" height="3" fill="#fff"/>
<rect x="458" y="159" width="3" height="1" fill="#fff"/>
<rect x="459" y="158" width="1" height="3" fill="#fff"/>
<rect x="466" y="149" width="3" height="1" fill="#fff"/>
<rect x="467" y="148" width="1" height="3" fill="#fff"/>
<rect x="474" y="115" width="3" height="1" fill="#fff"/>
<rect x="475" y="114" width="1" height="3" fill="#fff"/>
<rect x="482" y="95" width="3" height="1" fill="#fff"/>
<rect x="483" y="94" width="1" height="3" fill="#fff"/>
<rect x="490" y="95" width="3" height="1" fill="#fff"/>
<rect x="491" y="94" width="1" height="3" fill="#fff"/>
<rect x="498" y="91" width="3" height="1" fill="#fff"/>
<rect x="499" y="90" width="1" height="3" fill="#fff"/>
<rect x="506" y="91" width="3" height="1" fill="#fff"/>
<rect x="507" y="90" width="1" height="3" fill="#fff"/>
<rect x="514" y="73" width="3" height="1" fill="#fff"/>
<rect x="515" y="72" width="1" height="3" fill="#fff"/>
<rect x="522" y="65" width="3" height="1" fill="#fff"/>
<rect x="523" y="64" width="1" height="3" fill="#fff"/>
<rect x="530" y="65" width="3" height="1" fill="#fff"/>
<rect x="531" y="64" width="1" height="3" fill="#fff"/>
<rect x="538" y="62" width="3" height="1" fill="#fff"/>
<rect x="539" y="61" width="1" height="3" fill="#fff"/>
<rect x="546" y="22" width="3" height="1" fill="#fff"/>
<rect x="547" y="21" width="1" height="3" fill="#fff"/>
<rect x="554" y="23" width="3" height="1" fill="#fff"/>
<rect x="555" y="22" width="1" height="3" fill="#fff"/>
<rect x="562" y="29" width="3" height="1" fill="#fff"/>
<rect x="563" y="28" width="1" height="3" fill="#fff"/>
<rect x="570" y="39" width="3" height="1" fill="#fff"/>
<rect x="571" y="38" width="1" height="3" fill="#fff"/>
<rect x="578" y="53" width="3" height="1" fill="#fff"/>
<rect x="579" y="52" width="1" height="3" fill="#fff"/>
<rect x="586" y="65" width="3" height="1" fill="#fff"/>
<rect x="587" y="64" width="1" height="3" fill="#fff"/>
<rect x="594" y="76" width="3" height="1" fill="#fff"/>
<rect x="595" y="75" width="1" height="3" fill="#fff"/>
<rect x="602" y="156" width="3" height="1" fill="#fff"/>
<rect x="603" y="155" width="1" height="3" fill="#fff"/>
<rect x="610" y="154" width="3" height="1" fill="#fff"/>
<rect x="611" y="153" width="1" height="3" fill="#fff"/>
<rect x="618" y="152" width="3" height="1" fill="#fff"/>
<rect x="619" y="151" width="1" height="3" fill="#fff"/>
<rect x="626" y="150" width="3" height="1" fill="#fff"/>
<rect x="627" y="149" width="1" height="3" fill="#fff"/>
<rect x="634" y="148" width="3" height="1" fill="#fff"/>
<rect x="635" y="147" width="1" height="3" fill="#fff"/>
<rect x="642" y="146" width="3" height="1" fill="#fff"/>
<rect x="643" y="145" width="1" height="3" fill="#fff"/>
<rect x="650" y="144" width="3" height="1" fill="#fff"/>
<rect x="651" y="143" width="1" height="3" fill="#fff"/>
<rect x="658" y="86" width="3" height="1" fill="#fff"/>
<rect x="659" y="85" width="1" height="3" fill="#fff"/>
<rect x="666" y="88" width="3" height="1" fill="#fff"/>
<rect x="667" y="87" width="1" height="3" fill="#fff"/>
<rect x="674" y="91" width="3" height="1" fill="#fff"/>
<rect x="675" y="90" width="1" height="3" fill="#fff"/>
<rect x="682" y="145" width="3" height="1" fill="#fff"/>
<rect x="683" y="144" width="1" height="3" fill="#fff"/>
<rect x="690" y="144" width="3" height="1" fill="#fff"/>
<rect x="691" y="143" width="1" height="3" fill="#fff"/>
<rect x="698" y="142" width="3" height="1" fill="#fff"/>
<rect x="699" y="141" width="1" height="3" fill="#fff"/>
<rect x="706" y="136" width="3" height="1" fill="#fff"/>
<rect x="707" y="135" width="1" height="3" fill="#fff"/>
<rect x="714" y="127" width="3" height="1" fill="#fff"/>
<rect x="715" y="126" width="1" height="3" fill="#fff"/>
<rect x="722" y="119" width="3" height="1" fill="#fff"/>
<rect x="723" y="118" width="1" height="3" fill="#fff"/>
<rect x="730" y="112" width="3" height="1" fill="#fff"/>
<rect x="731" y="111" width="1" height="3" fill="#fff"/>
<rect x="738" y="105" width="3" height="1" fill="#fff"/>
<rect x="739" y="104" width="1" height="3" fill="#fff"/>
<rect x="746" y="99" width="3" height="1" fill="#fff"/>
<rect x="747" y="98" width="1" height="3" fill="#fff"/>
<rect x="754" y="93" width="3" height="1" fill="#fff"/>
<rect x="755" y="92" width="1" height="3" fill="#fff"/>
<rect x="762" y="88" width="3" height="1" fill="#fff"/>
<rect x="763" y="87" width="1" height="3" fill="#fff"/>
<rect x="770" y="86" width="3" height="1" fill="#fff"/>
<rect x="771" y="85" width="1" height="3" fill="#fff"/>
<rect x="778" y="37" width="3" height="1" fill="#fff"/>
<rect x="779" y="36" width="1" height="3" fill="#fff"/>
<rect x="786" y="39" width="3" height="1" fill="#fff"/>
<rect x="787" y="38" width="1" height="3" fill="#fff"/>
<rect x="794" y="40" width="3" height="1" fill="#fff"/>
<rect x="795" y="39" width="1" height="3" fill="#fff"/>
<rect x="802" y="42" width="3" height="1" fill="#fff"/>
<rect x="803" y="41" width="1" height="3" fill="#fff"/>
<rect x="810" y="43" width="3" height="1" fill="#fff"/>
<rect x="811" y="42" width="1" height="3" fill="#fff"/>
<rect x="818" y="45" width="3" height="1" fill="#fff"/>
<rect x="819" y="44" width="1" height="3" fill="#fff"/>
<rect x="826" y="46" width="3" height="1" fill="#fff"/>
<rect x="827" y="45" width="1" height="3" fill="#fff"/>
<rect x="834" y="48" width="3" height="1" fill="#fff"/>
<rect x="835" y="47" width="1" height="3" fill="#fff"/>
<rect x="842" y="49" width="3" height="1" fill="#fff"/>
<rect x="843" y="48" width="1" height="3" fill="#fff"/>
<rect x="850" y="50" width="3" height="1" fill="#fff"/>
<rect x="851" y="49" width="1" height="3" fill="#fff"/>
<rect x="858" y="52" width="3" height="1" fill="#fff"/>
<rect x="859" y="51" width="1" height="3" fill="#fff"/>
<rect x="866" y="53" width="3" height="1" fill="#fff"/>
<rect x="867" y="52" width="1" height="3" fill="#fff"/>
<rect x="874" y="54" width="3" height="1" fill="#fff"/>
<rect x="875" y="53" width="1" height="3" fill="#fff"/>
<rect x="882" y="55" width="3" height="1" fill="#fff"/>
<rect x="883" y="54" width="1" height="3" fill="#fff"/>
<rect x="890" y="56" width="3" height="1" fill="#fff"/>
<rect x="891" y="55" width="1" height="3" fill="#fff"/>
<rect x="898" y="60" width="3" height="1" fill="#fff"/>
<rect x="899" y="59" width="1" height="3" fill="#fff"/>
<rect x="906" y="64" width="3" height="1" fill="#fff"/>
<rect x="907" y="63" width="1" height="3" fill="#fff"/>
<rect x="914" y="67" width="3" height="1" fill="#fff"/>
<rect x="915" y="66" width="1" height="3" fill="#fff"/>
<rect x="922" y="70" width="3" height="1" fill="#fff"/>
<rect x="923" y="69" width="1" height="3" fill="#fff"/>
<rect x="930" y="76" width="3" height="1" fill="#fff"/>
<rect x="931" y="75" width="1" height="3" fill="#fff"/>
<rect x="938" y="82" width="3" height="1" fill="#fff"/>
<rect x="939" y="81" width="1" height="3" fill="#fff"/>
<rect x="946" y="90" width="3" height="1" fill="#fff"/>
<rect x="947" y="89" width="1" height="3" fill="#fff"/>
<rect x="954" y="98" width="3" height="1" fill="#fff"/>
<rect x="955" y="97" width="1" height="3" fill="#fff"/>
<rect x="962" y="99" width="3" height="1" fill="#fff"/>
<rect x="963" y="98" width="1" height="3" fill="#fff"/>
<rect x="970" y="99" width="3" height="1" fill="#fff"/>
<rect x="971" y="98" width="1" height="3" fill="#fff"/>
<rect x="978" y="105" width="3" height="1" fill="#fff"/>
<rect x="979" y="104" width="1" height="3" fill="#fff"/>
<rect x="986" y="109" width="3" height="1" fill="#fff"/>
<rect x="987" y="108" width="1" height="3" fill="#fff"/>
<rect x="994" y="109" width="3" height="1" fill="#fff"/>
<rect x="995" y="108" width="1" height="3" fill="#fff"/>
<rect x="1002" y="147" width="3" height="1" fill="#fff"/>
<rect x="1003" y="146" width="1" height="3" fill="#fff"/>
<rect x="1010" y="145" width="3" height="1" fill="#fff"/>
<rect x="1011" y="144" width="1" height="3" fill="#fff"/>
<rect x="1018" y="143" width="3" height="1" fill="#fff"/>
<rect x="1019" y="142" width="1" height="3" fill="#fff"/>
<rect x="1026" y="140" width="3" height="1" fill="#fff"/>
<rect x="1027" y="139" width="1" height="3" fill="#fff"/>
<rect x="1034" y="138" width="3" height="1" fill="#fff"/>
<rect x="1035" y="137" width="1" height="3" fill="#fff"/>
<rect x="1042" y="102" width="3" height="1" fill="#fff"/>
<rect x="1043" y="101" width="1" height="3" fill="#fff"/>
<rect x="1050" y="103" width="3" height="1" fill="#fff"/>
<rect x="1051" y="102" width="1" height="3" fill="#fff"/>
<rect x="1058" y="108" width="3" height="1" fill="#fff"/>
<rect x="1059" y="107" width="1" height="3" fill="#fff"/>
<rect x="1066" y="118" width="3" height="1" fill="#fff"/>
<rect x="1067" y="117" width="1" height="3" fill="#fff"/>
<rect x="1074" y="131" width="3" height="1" fill="#fff"/>
<rect x="1075" y="130" width="1" height="3" fill="#fff"/>
<rect x="1082" y="146" width="3" height="1" fill="#fff"/>
<rect x="1083" y="145" width="1" height="3" fill="#fff"/>
<rect x="1090" y="158" width="3" height="1" fill="#fff"/>
<rect x="1091" y="157" width="1" height="3" fill="#fff"/>
<rect x="1098" y="186" width="3" height="1" fill="#fff"/>
<rect x="1099" y="185" width="1" height="3" fill="#fff"/>
<rect x="1106" y="395" width="3" height="1" fill="#fff"/>
<rect x="1107" y="394" width="1" height="3" fill="#fff"/>
<rect x="1114" y="391" width="3" height="1" fill="#fff"/>
<rect x="1115" y="390" width="1" height="3" fill="#fff"/>
<rect x="1122" y="376" width="3" height="1" fill="#fff"/>
<rect x="1123" y="375" width="1" height="3" fill="#fff"/>
<rect x="707" y="37" width="526" height="1" fill="#ffff00"/>
<rect x="707" y="114" width="526" height="1" fill="#ffff00"/>
<rect x="707" y="174" width="526" height="1" fill="#ffff00"/>
<rect x="707" y="216" width="526" height="1" fill="#ffff00"/>
<rect x="707" y="259" width="526" height="1" fill="#ffff00"/>
<rect x="707" y="311" width="526" height="1" fill="#ffff00"/>
<rect x="707" y="395" width="526" height="1" fill="#ffff00"/>
</g>
<path d="M707 37h1v1h-1zM708 38h1v1h-1zM709 39h1v1h-1zM713 43h1v1h-1zM714 44h1v1h-1zM715 45h1v1h-1zM719 49h2v1h-2zM721 50h1v1h-1zM725 54h1v1h-1zM726 55h1v1h-1zM727 56h1v1h-1zM731 60h1v1h-1zM732 61h1v1h-1zM733 62h1v1h-1zM737 65h1v1h-1zM738 66h1v1h-1zM739 67h1v1h-1zM743 71h1v1h-1zM744 72h1v1h-1zM745 73h1v1h-1zM749 77h2v1h-2zM751 78h1v1h-1zM755 82h1v1h-1zM756 83h1v1h-1zM757 84h1v1h-1zM761 88h1v1h-1zM762 89h1v1h-1zM763 90h1v1h-1zM767 93h1v1h-1zM768 94h1v1h-1zM769 95h1v1h-1zM773 99h1v1h-1zM774 100h1v1h-1zM775 101h1v1h-1zM779 105h2v1h-2zM781 106h1v1h-1zM785 110h1v1h-1zM786 111h1v1h-1zM787 112h1v1h-1zM791 116h1v1h-1zM792 117h1v1h-1zM793 118h1v1h-1zM797 121h1v1h-1zM798 122h1v1h-1zM799 123h1v1h-1zM803 127h1v1h-1zM804 128h1v1h-1zM805 129h1v1h-1zM809 133h2v1h-2zM811 134h1v1h-1zM815 138h1v1h-1zM816 139h1v1h-1zM817 140h1v1h-1zM821 144h1v1h-1zM822 145h1v1h-1zM823 146h1v1h-1zM827 149h1v1h-1zM828 150h1v1h-1zM829 151h1v1h-1zM833 155h1v1h-1zM834 156h1v1h-1zM835 157h1v1h-1zM839 160h1v1h-1zM840 161h1v1h-1zM841 162h1v1h-1zM845 166h1v1h-1zM846 167h1v1h-1zM847 168h1v1h-1zM851 172h1v1h-1zM852 173h1v1h-1zM853 174h1v1h-1zM857 177h1v1h-1zM858 178h1v1h-1zM859 179h1v1h-1zM863 183h1v1h-1zM864 184h1v1h-1zM865 185h1v1h-1zM869 188h1v1h-1zM870 189h1v1h-1zM871 190h1v1h-1zM875 194h1v1h-1zM876 195h1v1h-1zM877 196h1v1h-1zM881 200h1v1h-1zM882 201h1v1h-1zM883 202h1v1h-1zM887 205h1v1h-1zM888 206h1v1h-1zM889 207h1v1h-1zM893 211h1v1h-1zM894 212h1v1h-1zM895 213h1v1h-1zM899 216h1v1h-1zM900 217h1v1h-1zM901 218h1v1h-1zM905 222h1v1h-1zM906 223h1v1h-1zM907 224h1v1h-1zM911 228h1v1h-1zM912 229h1v1h-1zM913 230h1v1h-1zM917 233h1v1h-1zM918 234h1v1h-1zM919 235h1v1h-1zM923 239h1v1h-1zM924 240h1v1h-1zM925 241h1v1h-1zM929 244h1v1h-1zM930 245h1v1h-1zM931 246h1v1h-1zM935 250h1v1h-1zM936 251h1v1h-1zM937 252h1v1h-1zM941 256h1v1h-1zM942 257h1v1h-1zM943 258h1v1h-1zM947 261h1v1h-1zM948 262h1v1h-1zM949 263h1v1h-1zM953 267h1v1h-1zM954 268h1v1h-1zM955 269h1v1h-1zM959 272h1v1h-1zM960 273h1v1h-1zM961 274h1v1h-1zM965 278h1v1h-1zM966 279h1v1h-1zM967 280h1v1h-1zM971 284h1v1h-1zM972 285h1v1h-1zM973 286h1v1h-1zM977 289h1v1h-1zM978 290h1v1h-1zM979 291h1v1h-1zM983 295h1v1h-1zM984 296h1v1h-1zM985 297h1v1h-1zM989 300h1v1h-1zM990 301h1v1h-1zM991 302h1v1h-1zM995 306h1v1h-1zM996 307h1v1h-1zM997 308h1v1h-1zM1001 312h1v1h-1zM1002 313h1v1h-1zM1003 314h1v1h-1zM1007 317h1v1h-1zM1008 318h1v1h-1zM1009 319h1v1h-1zM1013 323h1v1h-1zM1014 324h1v1h-1zM1015 325h1v1h-1zM1019 328h1v1h-1zM1020 329h1v1h-1zM1021 330h1v1h-1zM1025 334h1v1h-1zM1026 335h1v1h-1zM1027 336h1v1h-1zM1031 340h1v1h-1zM1032 341h2v1h-2zM1037 345h1v1h-1zM1038 346h1v1h-1zM1039 347h1v1h-1zM1043 351h1v1h-1zM1044 352h1v1h-1zM1045 353h1v1h-1zM1049 356h1v1h-1zM1050 357h1v1h-1zM1051 358h1v1h-1zM1055 362h1v1h-1zM1056 363h1v1h-1zM1057 364h1v1h-1zM1061 368h1v1h-1zM1062 369h2v1h-2zM1067 373h1v1h-1zM1068 374h1v1h-1zM1069 375h1v1h-1zM1073 379h1v1h-1zM1074 380h1v1h-1zM1075 381h1v1h-1zM1079 384h1v1h-1zM1080 385h1v1h-1zM1081 386h1v1h-1zM1085 390h1v1h-1zM1086 391h1v1h-1zM1087 392h1v1h-1z" fill="#ff0000" shape-rendering="crispEdges"/>
<ellipse cx="58.5" cy="383.6" rx="15" ry="10.1" fill="none" stroke="#ffee1a" stroke-width="3.2"/>
<ellipse cx="1091" cy="390.5" rx="24.5" ry="9" fill="none" stroke="#00e5ee" stroke-width="3"/>
</g>
<g shape-rendering="crispEdges">
<rect x="3" y="458" width="4" height="15" fill="#32cd32"/>
<rect x="8" y="458" width="7" height="9" fill="#32cd32"/>
<rect x="16" y="458" width="7" height="4" fill="#32cd32"/>
<rect x="24" y="454" width="7" height="4" fill="#32cd32"/>
<rect x="32" y="447" width="7" height="11" fill="#32cd32"/>
<rect x="40" y="444" width="7" height="14" fill="#32cd32"/>
<rect x="48" y="450" width="7" height="8" fill="#ff4500"/>
<rect x="56" y="458" width="7" height="4" fill="#ff4500"/>
<rect x="64" y="458" width="7" height="5" fill="#ff4500"/>
<rect x="72" y="458" width="7" height="6" fill="#ff4500"/>
<rect x="80" y="458" width="7" height="1" fill="#32cd32"/>
<rect x="88" y="438" width="7" height="20" fill="#32cd32"/>
<rect x="96" y="419" width="7" height="39" fill="#32cd32"/>
<rect x="104" y="413" width="7" height="45" fill="#32cd32"/>
<rect x="112" y="413" width="7" height="45" fill="#32cd32"/>
<rect x="120" y="420" width="7" height="38" fill="#ff4500"/>
<rect x="128" y="435" width="7" height="23" fill="#ff4500"/>
<rect x="136" y="447" width="7" height="11" fill="#ff4500"/>
<rect x="144" y="455" width="7" height="3" fill="#ff4500"/>
<rect x="152" y="455" width="7" height="3" fill="#ff4500"/>
<rect x="160" y="453" width="7" height="5" fill="#32cd32"/>
<rect x="168" y="456" width="7" height="2" fill="#ff4500"/>
<rect x="176" y="458" width="7" height="5" fill="#ff4500"/>
<rect x="184" y="458" width="7" height="8" fill="#ff4500"/>
<rect x="192" y="458" width="7" height="11" fill="#ff4500"/>
<rect x="200" y="458" width="7" height="11" fill="#ff4500"/>
<rect x="208" y="458" width="7" height="9" fill="#32cd32"/>
<rect x="216" y="458" width="7" height="4" fill="#32cd32"/>
<rect x="224" y="457" width="7" height="1" fill="#32cd32"/>
<rect x="232" y="455" width="7" height="3" fill="#32cd32"/>
<rect x="240" y="455" width="7" height="3" fill="#ff4500"/>
<rect x="248" y="457" width="7" height="1" fill="#ff4500"/>
<rect x="256" y="458" width="7" height="4" fill="#ff4500"/>
<rect x="264" y="458" width="7" height="5" fill="#ff4500"/>
<rect x="272" y="458" width="7" height="3" fill="#32cd32"/>
<rect x="280" y="458" width="7" height="1" fill="#32cd32"/>
<rect x="288" y="454" width="7" height="4" fill="#32cd32"/>
<rect x="296" y="452" width="7" height="6" fill="#32cd32"/>
<rect x="304" y="452" width="7" height="6" fill="#ff4500"/>
<rect x="312" y="454" width="7" height="4" fill="#ff4500"/>
<rect x="320" y="456" width="7" height="2" fill="#ff4500"/>
<rect x="328" y="458" width="7" height="2" fill="#ff4500"/>
<rect x="336" y="458" width="7" height="2" fill="#32cd32"/>
<rect x="344" y="458" width="7" height="2" fill="#32cd32"/>
<rect x="352" y="457" width="7" height="1" fill="#32cd32"/>
<rect x="360" y="455" width="7" height="3" fill="#32cd32"/>
<rect x="368" y="451" width="7" height="7" fill="#32cd32"/>
<rect x="376" y="445" width="7" height="13" fill="#32cd32"/>
<rect x="384" y="440" width="7" height="18" fill="#32cd32"/>
<rect x="392" y="433" width="7" height="25" fill="#32cd32"/>
<rect x="400" y="429" width="7" height="29" fill="#32cd32"/>
<rect x="408" y="428" width="7" height="30" fill="#32cd32"/>
<rect x="416" y="425" width="7" height="33" fill="#32cd32"/>
<rect x="424" y="429" width="7" height="29" fill="#ff4500"/>
<rect x="432" y="437" width="7" height="21" fill="#ff4500"/>
<rect x="440" y="442" width="7" height="16" fill="#ff4500"/>
<rect x="448" y="447" width="7" height="11" fill="#ff4500"/>
<rect x="456" y="452" width="7" height="6" fill="#ff4500"/>
<rect x="464" y="447" width="7" height="11" fill="#32cd32"/>
<rect x="472" y="445" width="7" height="13" fill="#32cd32"/>
<rect x="480" y="438" width="7" height="20" fill="#32cd32"/>
<rect x="488" y="440" width="7" height="18" fill="#ff4500"/>
<rect x="496" y="445" width="7" height="13" fill="#ff4500"/>
<rect x="504" y="456" width="7" height="2" fill="#ff4500"/>
<rect x="512" y="458" width="7" height="6" fill="#ff4500"/>
<rect x="520" y="458" width="7" height="12" fill="#ff4500"/>
<rect x="528" y="458" width="7" height="13" fill="#ff4500"/>
<rect x="536" y="458" width="7" height="13" fill="#ff4500"/>
<rect x="544" y="458" width="7" height="15" fill="#ff4500"/>
<rect x="552" y="458" width="7" height="18" fill="#ff4500"/>
<rect x="560" y="458" width="7" height="26" fill="#ff4500"/>
<rect x="568" y="458" width="7" height="32" fill="#ff4500"/>
<rect x="576" y="458" width="7" height="37" fill="#ff4500"/>
<rect x="584" y="458" width="7" height="37" fill="#32cd32"/>
<rect x="592" y="458" width="7" height="29" fill="#32cd32"/>
<rect x="600" y="458" width="7" height="18" fill="#32cd32"/>
<rect x="608" y="458" width="7" height="8" fill="#32cd32"/>
<rect x="616" y="458" width="7" height="3" fill="#32cd32"/>
<rect x="624" y="458" width="7" height="5" fill="#ff4500"/>
<rect x="632" y="458" width="7" height="8" fill="#ff4500"/>
<rect x="640" y="458" width="7" height="12" fill="#ff4500"/>
<rect x="648" y="458" width="7" height="14" fill="#ff4500"/>
<rect x="656" y="458" width="7" height="14" fill="#ff4500"/>
<rect x="664" y="458" width="7" height="13" fill="#32cd32"/>
<rect x="672" y="458" width="7" height="12" fill="#32cd32"/>
<rect x="680" y="458" width="7" height="8" fill="#32cd32"/>
<rect x="688" y="458" width="7" height="3" fill="#32cd32"/>
<rect x="696" y="451" width="7" height="7" fill="#32cd32"/>
<rect x="704" y="441" width="7" height="17" fill="#32cd32"/>
<rect x="712" y="437" width="7" height="21" fill="#32cd32"/>
<rect x="720" y="438" width="7" height="20" fill="#ff4500"/>
<rect x="728" y="440" width="7" height="18" fill="#ff4500"/>
<rect x="736" y="446" width="7" height="12" fill="#ff4500"/>
<rect x="744" y="454" width="7" height="4" fill="#ff4500"/>
<rect x="752" y="458" width="7" height="2" fill="#ff4500"/>
<rect x="760" y="458" width="7" height="6" fill="#ff4500"/>
<rect x="768" y="458" width="7" height="7" fill="#ff4500"/>
<rect x="776" y="458" width="7" height="6" fill="#32cd32"/>
<rect x="784" y="458" width="7" height="6" fill="#32cd32"/>
<rect x="792" y="458" width="7" height="3" fill="#32cd32"/>
<rect x="800" y="457" width="7" height="1" fill="#32cd32"/>
<rect x="808" y="456" width="7" height="2" fill="#32cd32"/>
<rect x="816" y="455" width="7" height="3" fill="#32cd32"/>
<rect x="824" y="456" width="7" height="2" fill="#ff4500"/>
<rect x="832" y="458" width="7" height="2" fill="#ff4500"/>
<rect x="840" y="458" width="7" height="5" fill="#ff4500"/>
<rect x="848" y="458" width="7" height="5" fill="#ff4500"/>
<rect x="856" y="458" width="7" height="4" fill="#32cd32"/>
<rect x="864" y="458" width="7" height="3" fill="#32cd32"/>
<rect x="872" y="458" width="7" height="2" fill="#32cd32"/>
<rect x="880" y="458" width="7" height="3" fill="#ff4500"/>
<rect x="888" y="458" width="7" height="6" fill="#ff4500"/>
<rect x="896" y="458" width="7" height="9" fill="#ff4500"/>
<rect x="904" y="458" width="7" height="10" fill="#ff4500"/>
<rect x="912" y="458" width="7" height="11" fill="#ff4500"/>
<rect x="920" y="458" width="7" height="13" fill="#ff4500"/>
<rect x="928" y="458" width="7" height="12" fill="#32cd32"/>
<rect x="936" y="458" width="7" height="12" fill="#ff4500"/>
<rect x="944" y="458" width="7" height="11" fill="#32cd32"/>
<rect x="952" y="458" width="7" height="7" fill="#32cd32"/>
<rect x="960" y="458" width="7" height="2" fill="#32cd32"/>
<rect x="968" y="456" width="7" height="2" fill="#32cd32"/>
<rect x="976" y="452" width="7" height="6" fill="#32cd32"/>
<rect x="984" y="451" width="7" height="7" fill="#32cd32"/>
<rect x="992" y="453" width="7" height="5" fill="#ff4500"/>
<rect x="1000" y="455" width="7" height="3" fill="#ff4500"/>
<rect x="1008" y="454" width="7" height="4" fill="#32cd32"/>
<rect x="1016" y="454" width="7" height="4" fill="#32cd32"/>
<rect x="1024" y="453" width="7" height="5" fill="#32cd32"/>
<rect x="1032" y="454" width="7" height="4" fill="#ff4500"/>
<rect x="1040" y="456" width="7" height="2" fill="#ff4500"/>
<rect x="1048" y="458" width="7" height="6" fill="#ff4500"/>
<rect x="1056" y="458" width="7" height="15" fill="#ff4500"/>
<rect x="1064" y="458" width="7" height="22" fill="#ff4500"/>
<rect x="1072" y="458" width="7" height="27" fill="#ff4500"/>
<rect x="1080" y="458" width="7" height="26" fill="#32cd32"/>
<rect x="1088" y="458" width="7" height="34" fill="#ff4500"/>
<rect x="1096" y="458" width="7" height="27" fill="#32cd32"/>
<rect x="1104" y="458" width="7" height="16" fill="#32cd32"/>
<rect x="1112" y="458" width="7" height="2" fill="#32cd32"/>
<rect x="1120" y="451" width="7" height="7" fill="#32cd32"/>
<rect x="3" y="544" width="4" height="35" fill="#ff0000"/>
<rect x="8" y="544" width="7" height="35" fill="#ff0000"/>
<rect x="16" y="544" width="7" height="35" fill="#008000"/>
<rect x="24" y="544" width="7" height="33" fill="#008000"/>
<rect x="32" y="544" width="7" height="31" fill="#008000"/>
<rect x="40" y="544" width="7" height="29" fill="#008000"/>
<rect x="48" y="544" width="7" height="29" fill="#ff0000"/>
<rect x="56" y="544" width="7" height="32" fill="#ff0000"/>
<rect x="64" y="544" width="7" height="31" fill="#008000"/>
<rect x="72" y="544" width="7" height="32" fill="#ff0000"/>
<rect x="80" y="544" width="7" height="31" fill="#008000"/>
<rect x="88" y="544" width="7" height="25" fill="#008000"/>
<rect x="96" y="544" width="7" height="17" fill="#008000"/>
<rect x="104" y="544" width="7" height="12" fill="#008000"/>
<rect x="112" y="544" width="7" height="7" fill="#008000"/>
<rect x="120" y="544" width="7" height="3" fill="#008000"/>
<rect x="128" y="544" width="7" height="2" fill="#008000"/>
<rect x="136" y="544" width="7" height="3" fill="#ff0000"/>
<rect x="144" y="544" width="7" height="3" fill="#ff0000"/>
<rect x="152" y="544" width="7" height="2" fill="#008000"/>
<rect x="160" y="544" width="7" height="1" fill="#008000"/>
<rect x="168" y="544" width="7" height="1" fill="#ff0000"/>
<rect x="176" y="544" width="7" height="3" fill="#ff0000"/>
<rect x="184" y="544" width="7" height="4" fill="#ff0000"/>
<rect x="192" y="544" width="7" height="6" fill="#ff0000"/>
<rect x="200" y="544" width="7" height="7" fill="#ff0000"/>
<rect x="208" y="544" width="7" height="8" fill="#ff0000"/>
<rect x="216" y="544" width="7" height="7" fill="#008000"/>
<rect x="224" y="544" width="7" height="7" fill="#008000"/>
<rect x="232" y="544" width="7" height="6" fill="#008000"/>
<rect x="240" y="544" width="7" height="6" fill="#008000"/>
<rect x="248" y="544" width="7" height="6" fill="#ff0000"/>
<rect x="256" y="544" width="7" height="7" fill="#ff0000"/>
<rect x="264" y="544" width="7" height="8" fill="#ff0000"/>
<rect x="272" y="544" width="7" height="8" fill="#008000"/>
<rect x="280" y="544" width="7" height="7" fill="#008000"/>
<rect x="288" y="544" width="7" height="6" fill="#008000"/>
<rect x="296" y="544" width="7" height="5" fill="#008000"/>
<rect x="304" y="544" width="7" height="5" fill="#008000"/>
<rect x="312" y="544" width="7" height="4" fill="#008000"/>
<rect x="320" y="544" width="7" height="5" fill="#ff0000"/>
<rect x="328" y="544" width="7" height="5" fill="#ff0000"/>
<rect x="336" y="544" width="7" height="5" fill="#ff0000"/>
<rect x="344" y="544" width="7" height="5" fill="#008000"/>
<rect x="352" y="544" width="7" height="5" fill="#008000"/>
<rect x="360" y="544" width="7" height="4" fill="#008000"/>
<rect x="368" y="544" width="7" height="3" fill="#008000"/>
<rect x="376" y="543" width="7" height="1" fill="#008000"/>
<rect x="384" y="540" width="7" height="4" fill="#008000"/>
<rect x="392" y="536" width="7" height="8" fill="#008000"/>
<rect x="400" y="532" width="7" height="12" fill="#008000"/>
<rect x="408" y="528" width="7" height="16" fill="#008000"/>
<rect x="416" y="523" width="7" height="21" fill="#008000"/>
<rect x="424" y="520" width="7" height="24" fill="#008000"/>
<rect x="432" y="519" width="7" height="25" fill="#008000"/>
<rect x="440" y="517" width="7" height="27" fill="#008000"/>
<rect x="448" y="516" width="7" height="28" fill="#008000"/>
<rect x="456" y="516" width="7" height="28" fill="#008000"/>
<rect x="464" y="514" width="7" height="30" fill="#008000"/>
<rect x="472" y="512" width="7" height="32" fill="#008000"/>
<rect x="480" y="508" width="7" height="36" fill="#008000"/>
<rect x="488" y="507" width="7" height="37" fill="#008000"/>
<rect x="496" y="506" width="7" height="38" fill="#008000"/>
<rect x="504" y="508" width="7" height="36" fill="#ff0000"/>
<rect x="512" y="509" width="7" height="35" fill="#ff0000"/>
<rect x="520" y="511" width="7" height="33" fill="#ff0000"/>
<rect x="528" y="512" width="7" height="32" fill="#ff0000"/>
<rect x="536" y="514" width="7" height="30" fill="#ff0000"/>
<rect x="544" y="516" width="7" height="28" fill="#ff0000"/>
<rect x="552" y="519" width="7" height="25" fill="#ff0000"/>
<rect x="560" y="523" width="7" height="21" fill="#ff0000"/>
<rect x="568" y="528" width="7" height="16" fill="#ff0000"/>
<rect x="576" y="533" width="7" height="11" fill="#ff0000"/>
<rect x="584" y="538" width="7" height="6" fill="#ff0000"/>
<rect x="592" y="540" width="7" height="4" fill="#ff0000"/>
<rect x="600" y="540" width="7" height="4" fill="#ff0000"/>
<rect x="608" y="540" width="7" height="4" fill="#008000"/>
<rect x="616" y="540" width="7" height="4" fill="#008000"/>
<rect x="624" y="541" width="7" height="3" fill="#ff0000"/>
<rect x="632" y="543" width="7" height="1" fill="#ff0000"/>
<rect x="640" y="544" width="7" height="2" fill="#ff0000"/>
<rect x="648" y="544" width="7" height="3" fill="#ff0000"/>
<rect x="656" y="544" width="7" height="5" fill="#ff0000"/>
<rect x="664" y="544" width="7" height="7" fill="#ff0000"/>
<rect x="672" y="544" width="7" height="8" fill="#ff0000"/>
<rect x="680" y="544" width="7" height="8" fill="#ff0000"/>
<rect x="688" y="544" width="7" height="8" fill="#008000"/>
<rect x="696" y="544" width="7" height="5" fill="#008000"/>
<rect x="704" y="544" width="7" height="2" fill="#008000"/>
<rect x="712" y="542" width="7" height="2" fill="#008000"/>
<rect x="720" y="540" width="7" height="4" fill="#008000"/>
<rect x="728" y="538" width="7" height="6" fill="#008000"/>
<rect x="736" y="537" width="7" height="7" fill="#008000"/>
<rect x="744" y="538" width="7" height="6" fill="#ff0000"/>
<rect x="752" y="539" width="7" height="5" fill="#ff0000"/>
<rect x="760" y="540" width="7" height="4" fill="#ff0000"/>
<rect x="768" y="540" width="7" height="4" fill="#ff0000"/>
<rect x="776" y="541" width="7" height="3" fill="#ff0000"/>
<rect x="784" y="541" width="7" height="3" fill="#ff0000"/>
<rect x="792" y="541" width="7" height="3" fill="#008000"/>
<rect x="800" y="541" width="7" height="3" fill="#008000"/>
<rect x="808" y="540" width="7" height="4" fill="#008000"/>
<rect x="816" y="540" width="7" height="4" fill="#008000"/>
<rect x="824" y="540" width="7" height="4" fill="#ff0000"/>
<rect x="832" y="541" width="7" height="3" fill="#ff0000"/>
<rect x="840" y="542" width="7" height="2" fill="#ff0000"/>
<rect x="848" y="542" width="7" height="2" fill="#ff0000"/>
<rect x="856" y="542" width="7" height="2" fill="#ff0000"/>
<rect x="864" y="542" width="7" height="2" fill="#ff0000"/>
<rect x="872" y="542" width="7" height="2" fill="#ff0000"/>
<rect x="880" y="543" width="7" height="1" fill="#ff0000"/>
<rect x="888" y="544" width="7" height="1" fill="#ff0000"/>
<rect x="896" y="544" width="7" height="2" fill="#ff0000"/>
<rect x="904" y="544" width="7" height="4" fill="#ff0000"/>
<rect x="912" y="544" width="7" height="5" fill="#ff0000"/>
<rect x="920" y="544" width="7" height="7" fill="#ff0000"/>
<rect x="928" y="544" width="7" height="8" fill="#ff0000"/>
<rect x="936" y="544" width="7" height="10" fill="#ff0000"/>
<rect x="944" y="544" width="7" height="11" fill="#ff0000"/>
<rect x="952" y="544" width="7" height="11" fill="#ff0000"/>
<rect x="960" y="544" width="7" height="10" fill="#008000"/>
<rect x="968" y="544" width="7" height="10" fill="#008000"/>
<rect x="976" y="544" width="7" height="9" fill="#008000"/>
<rect x="984" y="544" width="7" height="8" fill="#008000"/>
<rect x="992" y="544" width="7" height="8" fill="#008000"/>
<rect x="1000" y="544" width="7" height="7" fill="#008000"/>
<rect x="1008" y="544" width="7" height="7" fill="#008000"/>
<rect x="1016" y="544" width="7" height="6" fill="#008000"/>
<rect x="1024" y="544" width="7" height="5" fill="#008000"/>
<rect x="1032" y="544" width="7" height="5" fill="#008000"/>
<rect x="1040" y="544" width="7" height="5" fill="#ff0000"/>
<rect x="1048" y="544" width="7" height="7" fill="#ff0000"/>
<rect x="1056" y="544" width="7" height="10" fill="#ff0000"/>
<rect x="1064" y="544" width="7" height="14" fill="#ff0000"/>
<rect x="1072" y="544" width="7" height="18" fill="#ff0000"/>
<rect x="1080" y="544" width="7" height="20" fill="#ff0000"/>
<rect x="1088" y="544" width="7" height="26" fill="#ff0000"/>
<rect x="1096" y="544" width="7" height="28" fill="#ff0000"/>
<rect x="1104" y="544" width="7" height="28" fill="#008000"/>
<rect x="1112" y="544" width="7" height="26" fill="#008000"/>
<rect x="1120" y="544" width="7" height="25" fill="#008000"/>
</g>
<g clip-path="url(#cs)">
<path d="M3 654h3v1h-3zM6 653h2v1h-2zM8 652h2v1h-2zM10 651h3v1h-3zM13 650h3v1h-3zM16 649h4v1h-4zM20 648h4v1h-4zM24 647h3v1h-3zM27 646h2v1h-2zM29 645h2v1h-2zM31 644h3v1h-3zM34 643h5v1h-5zM39 642h5v1h-5zM44 643h4v1h-4zM48 644h5v1h-5zM53 643h2v1h-2zM55 642h2v1h-2zM57 641h2v1h-2zM59 640h2v1h-2zM61 639h2v1h-2zM63 638h3v1h-3zM66 637h4v1h-4zM70 636h5v1h-5zM75 635h1v1h-1zM76 634h2v1h-2zM78 633h1v1h-1zM79 632h1v1h-1zM80 631h1v1h-1zM81 630h1v1h-1zM82 629h1v1h-1zM83 628h1v1h-1zM84 627h1v1h-1zM85 626h1v1h-1zM86 625h1v1h-1zM87 624h1v1h-1zM88 623h1v1h-1zM89 622h1v1h-1zM90 621h1v1h-1zM91 620h1v1h-1zM92 619h1v1h-1zM93 618h1v1h-1zM94 617h1v1h-1zM95 616h1v1h-1zM96 614h1v2h-1zM97 613h1v1h-1zM98 612h1v1h-1zM99 611h1v1h-1zM100 610h3v1h-3zM103 609h2v1h-2zM105 608h7v1h-7zM112 607h7v1h-7zM119 606h7v1h-7zM126 607h3v1h-3zM129 608h4v1h-4zM133 609h4v1h-4zM137 610h3v1h-3zM140 611h3v1h-3zM143 612h3v1h-3zM146 613h5v1h-5zM151 614h6v1h-6zM157 615h4v1h-4zM161 616h3v1h-3zM164 617h1v1h-1zM165 618h1v1h-1zM166 619h2v1h-2zM168 620h1v1h-1zM169 621h1v1h-1zM170 622h2v1h-2zM172 623h1v1h-1zM173 624h1v1h-1zM174 625h1v1h-1zM175 626h1v1h-1zM176 627h2v1h-2zM178 628h1v1h-1zM179 629h1v1h-1zM180 630h1v1h-1zM181 631h1v1h-1zM182 632h1v1h-1zM183 633h2v1h-2zM185 634h1v1h-1zM186 635h1v1h-1zM187 636h1v1h-1zM188 637h1v1h-1zM189 638h1v1h-1zM190 639h2v1h-2zM192 640h1v1h-1zM193 641h1v1h-1zM194 642h1v1h-1zM195 643h1v1h-1zM196 644h2v1h-2zM198 645h1v1h-1zM199 646h1v1h-1zM200 647h1v1h-1zM201 648h1v1h-1zM202 649h4v1h-4zM206 650h7v1h-7zM213 649h3v1h-3zM216 648h4v1h-4zM220 647h3v1h-3zM223 646h4v1h-4zM227 645h6v1h-6zM233 644h5v1h-5zM238 645h9v1h-9zM247 644h6v1h-6zM253 645h22v1h-22zM275 644h1v1h-1zM276 643h1v1h-1zM277 642h1v1h-1zM278 641h1v1h-1zM279 640h1v1h-1zM280 639h1v1h-1zM281 638h2v1h-2zM283 637h1v1h-1zM284 636h1v1h-1zM285 635h1v1h-1zM286 634h1v1h-1zM287 633h1v1h-1zM288 632h1v1h-1zM289 631h1v1h-1zM290 630h1v1h-1zM291 629h2v1h-2zM293 628h3v1h-3zM296 627h3v1h-3zM299 626h2v1h-2zM301 625h2v1h-2zM303 624h3v1h-3zM306 623h2v1h-2zM308 622h3v1h-3zM311 621h2v1h-2zM313 620h2v1h-2zM315 619h2v1h-2zM317 618h2v1h-2zM319 617h1v1h-1zM320 616h2v1h-2zM322 615h2v1h-2zM324 614h2v1h-2zM326 613h5v1h-5zM331 612h4v1h-4zM335 611h3v1h-3zM338 610h3v1h-3zM341 609h2v1h-2zM343 608h3v1h-3zM346 607h4v1h-4zM350 606h4v1h-4zM354 605h8v1h-8zM362 604h9v1h-9zM371 603h7v1h-7zM378 602h2v1h-2zM380 601h2v1h-2zM382 600h2v1h-2zM384 599h1v1h-1zM385 598h6v1h-6zM391 599h14v1h-14zM405 598h2v1h-2zM407 597h2v1h-2zM409 596h2v1h-2zM411 595h14v1h-14zM425 596h5v1h-5zM430 597h4v1h-4zM434 598h8v1h-8zM442 599h1v1h-1zM443 598h5v1h-5zM448 597h14v1h-14zM462 598h16v1h-16zM478 597h3v1h-3zM481 596h4v1h-4zM485 595h10v1h-10zM495 596h4v1h-4zM499 597h3v1h-3zM502 598h2v1h-2zM504 599h3v1h-3zM507 600h16v1h-16zM523 601h2v1h-2zM525 602h2v1h-2zM527 603h2v1h-2zM529 604h2v1h-2zM531 605h6v1h-6zM537 606h4v1h-4zM541 607h3v1h-3zM544 608h3v1h-3zM547 609h1v1h-1zM548 610h1v1h-1zM549 611h1v1h-1zM550 612h1v2h-1zM551 614h1v1h-1zM552 615h1v1h-1zM553 616h1v1h-1zM554 617h1v1h-1zM555 618h1v1h-1zM556 619h1v2h-1zM557 621h1v1h-1zM558 622h1v1h-1zM559 623h1v1h-1zM560 624h1v1h-1zM561 625h1v2h-1zM562 627h1v1h-1zM563 628h1v1h-1zM564 629h1v1h-1zM565 630h1v1h-1zM566 631h1v2h-1zM567 633h1v1h-1zM568 634h1v1h-1zM569 635h1v2h-1zM570 637h1v1h-1zM571 638h1v2h-1zM572 639h1v1h-1zM573 640h1v1h-1zM574 641h2v1h-2zM576 642h2v1h-2zM578 643h2v1h-2zM580 644h6v1h-6zM586 645h2v1h-2zM588 644h4v1h-4zM592 643h3v1h-3zM595 642h3v1h-3zM598 641h2v1h-2zM600 640h2v1h-2zM602 639h2v1h-2zM604 638h3v1h-3zM607 637h2v1h-2zM609 636h3v1h-3zM612 635h2v1h-2zM614 634h3v1h-3zM617 633h2v1h-2zM619 632h3v1h-3zM622 631h2v1h-2zM624 630h2v1h-2zM626 629h3v1h-3zM629 628h2v1h-2zM631 627h3v1h-3zM634 626h18v1h-18zM652 627h3v1h-3zM655 628h3v1h-3zM658 629h7v1h-7zM665 630h7v1h-7zM672 631h16v1h-16zM688 630h3v1h-3zM691 629h2v1h-2zM693 628h1v1h-1zM694 627h1v1h-1zM695 625h1v2h-1zM696 624h1v1h-1zM697 623h1v1h-1zM698 621h1v2h-1zM699 620h1v1h-1zM700 619h1v1h-1zM701 618h1v1h-1zM702 617h1v1h-1zM703 616h1v1h-1zM704 615h1v1h-1zM705 613h1v2h-1zM706 612h1v1h-1zM707 611h1v1h-1zM708 610h1v1h-1zM709 609h1v1h-1zM710 608h1v1h-1zM711 607h1v1h-1zM712 606h1v1h-1zM713 605h1v1h-1zM714 604h1v1h-1zM715 603h2v1h-2zM717 602h2v1h-2zM719 601h2v1h-2zM721 600h9v1h-9zM730 601h8v1h-8zM738 602h4v1h-4zM742 603h4v1h-4zM746 604h3v1h-3zM749 605h2v1h-2zM751 606h2v1h-2zM753 607h2v1h-2zM755 608h2v1h-2zM757 609h2v1h-2zM759 610h3v1h-3zM762 611h2v1h-2zM764 612h1v1h-1zM765 613h2v1h-2zM767 614h2v1h-2zM769 615h2v1h-2zM771 616h1v1h-1zM772 617h1v1h-1zM773 618h2v1h-2zM775 619h1v1h-1zM776 620h2v1h-2zM778 621h1v1h-1zM779 622h2v1h-2zM781 623h2v1h-2zM783 624h2v1h-2zM785 625h2v1h-2zM787 626h1v1h-1zM788 627h2v1h-2zM790 628h1v1h-1zM791 629h2v1h-2zM793 630h1v1h-1zM794 631h3v1h-3zM797 632h6v1h-6zM803 633h5v1h-5zM808 634h4v1h-4zM812 635h8v1h-8zM820 634h3v1h-3zM823 633h2v1h-2zM825 632h5v1h-5zM830 631h16v1h-16zM846 630h8v1h-8zM854 631h5v1h-5zM859 632h2v1h-2zM861 631h9v1h-9zM870 630h9v1h-9zM879 631h4v1h-4zM883 632h1v1h-1zM884 633h1v1h-1zM885 634h2v1h-2zM887 635h1v1h-1zM888 636h1v1h-1zM889 637h1v1h-1zM890 638h2v1h-2zM892 639h3v1h-3zM895 640h3v1h-3zM898 641h5v1h-5zM903 642h4v1h-4zM907 643h3v1h-3zM910 644h2v1h-2zM912 645h4v1h-4zM916 646h16v1h-16zM932 647h3v1h-3zM935 648h3v1h-3zM938 649h4v1h-4zM942 648h4v1h-4zM946 647h2v1h-2zM948 646h2v1h-2zM950 645h1v1h-1zM951 644h1v1h-1zM952 643h2v1h-2zM954 642h1v1h-1zM955 641h3v1h-3zM958 640h2v1h-2zM960 639h2v1h-2zM962 638h1v1h-1zM963 637h3v1h-3zM966 636h5v1h-5zM971 635h2v1h-2zM973 634h3v1h-3zM976 633h2v1h-2zM978 632h2v1h-2zM980 631h1v1h-1zM981 630h1v1h-1zM982 629h1v1h-1zM983 628h1v1h-1zM984 627h1v1h-1zM985 626h2v1h-2zM987 625h1v1h-1zM988 624h1v1h-1zM989 623h4v1h-4zM993 622h4v1h-4zM997 621h6v1h-6zM1003 620h2v1h-2zM1005 619h2v1h-2zM1007 618h2v1h-2zM1009 617h1v1h-1zM1010 616h3v1h-3zM1013 615h3v1h-3zM1016 614h11v1h-11zM1027 615h2v1h-2zM1029 616h2v1h-2zM1031 617h2v1h-2zM1033 618h2v1h-2zM1035 619h2v1h-2zM1037 620h2v1h-2zM1039 621h2v1h-2zM1041 622h2v1h-2zM1043 623h1v1h-1zM1044 624h1v1h-1zM1045 625h1v1h-1zM1046 626h1v2h-1zM1047 628h1v1h-1zM1048 629h1v2h-1zM1049 631h1v1h-1zM1050 632h1v2h-1zM1051 634h1v1h-1zM1052 635h1v2h-1zM1053 637h1v1h-1zM1054 638h1v2h-1zM1055 640h1v1h-1zM1056 641h1v1h-1zM1057 642h1v2h-1zM1058 644h1v1h-1zM1059 645h1v1h-1zM1060 646h1v2h-1zM1061 648h1v1h-1zM1062 649h1v1h-1zM1063 650h1v1h-1zM1064 651h1v1h-1zM1065 652h1v1h-1zM1066 653h1v1h-1zM1067 654h6v1h-6zM1067 655h1v1h-1zM1073 653h3v1h-3zM1076 654h3v1h-3zM1079 655h2v1h-2zM1081 656h2v1h-2zM1083 655h1v1h-1zM1084 654h1v1h-1zM1085 653h1v1h-1zM1086 652h2v1h-2zM1088 651h1v1h-1zM1089 650h1v1h-1zM1090 649h1v1h-1zM1091 648h1v1h-1zM1092 647h1v1h-1zM1093 646h1v1h-1zM1094 645h1v1h-1zM1095 644h1v1h-1zM1096 643h1v1h-1zM1097 642h2v1h-2zM1099 641h1v1h-1zM1100 640h1v1h-1zM1101 639h1v1h-1zM1102 638h1v1h-1zM1103 637h2v1h-2zM1105 636h1v1h-1zM1106 635h1v1h-1zM1107 634h1v1h-1zM1108 633h1v1h-1zM1109 632h1v1h-1zM1110 631h1v1h-1zM1111 630h1v1h-1zM1112 629h1v1h-1zM1113 628h1v1h-1zM1114 627h1v1h-1zM1115 626h1v1h-1zM1116 625h2v1h-2zM1118 624h1v1h-1zM1119 623h2v1h-2zM1121 622h2v1h-2zM1123 621h1v1h-1z" fill="#20b2aa" shape-rendering="crispEdges"/>
<path d="M3 655h3v1h-3zM9 655h1v1h-1zM10 654h2v1h-2zM15 654h1v1h-1zM16 653h2v1h-2zM21 652h3v1h-3zM27 651h3v1h-3zM33 650h1v1h-1zM34 649h2v1h-2zM39 648h3v1h-3zM45 648h1v1h-1zM46 647h2v1h-2zM51 647h1v1h-1zM52 646h2v1h-2zM57 645h1v1h-1zM58 644h2v1h-2zM63 643h1v1h-1zM64 642h2v1h-2zM69 641h3v1h-3zM75 640h2v1h-2zM77 639h1v1h-1zM81 637h2v1h-2zM83 636h1v1h-1zM87 635h1v1h-1zM88 634h2v1h-2zM93 632h1v1h-1zM94 631h1v1h-1zM95 630h1v1h-1zM99 628h1v1h-1zM100 627h1v1h-1zM101 626h1v1h-1zM105 624h1v1h-1zM106 623h1v1h-1zM107 622h1v1h-1zM111 621h1v1h-1zM112 620h2v1h-2zM117 617h1v1h-1zM118 616h1v1h-1zM119 615h1v1h-1zM123 612h2v1h-2zM125 611h1v1h-1zM129 609h2v1h-2zM131 608h1v1h-1zM135 608h2v1h-2zM137 607h1v1h-1zM141 608h3v1h-3zM147 608h3v1h-3zM153 608h1v1h-1zM154 609h2v1h-2zM159 610h2v1h-2zM161 611h1v1h-1zM165 612h3v1h-3zM171 613h1v1h-1zM172 614h2v1h-2zM177 616h1v1h-1zM178 617h2v1h-2zM183 620h2v1h-2zM185 621h1v1h-1zM189 623h1v1h-1zM190 624h2v1h-2zM195 627h2v1h-2zM197 628h1v1h-1zM201 632h2v1h-2zM203 633h1v1h-1zM207 636h2v1h-2zM209 637h1v1h-1zM213 640h2v1h-2zM215 641h1v1h-1zM219 643h1v1h-1zM220 644h2v1h-2zM225 646h3v1h-3zM231 647h3v1h-3zM237 647h3v1h-3zM243 647h2v1h-2zM245 646h1v1h-1zM249 646h3v1h-3zM255 646h3v1h-3zM261 646h3v1h-3zM267 646h3v1h-3zM273 646h2v1h-2zM275 645h1v1h-1zM279 645h3v1h-3zM285 644h2v1h-2zM287 643h1v1h-1zM291 642h2v1h-2zM293 641h1v1h-1zM297 640h1v1h-1zM298 639h2v1h-2zM303 637h2v1h-2zM305 636h1v1h-1zM309 635h1v1h-1zM310 634h2v1h-2zM315 632h2v1h-2zM317 631h1v1h-1zM321 628h1v1h-1zM322 627h1v1h-1zM323 626h1v1h-1zM327 623h1v1h-1zM328 622h2v1h-2zM333 620h1v1h-1zM334 619h2v1h-2zM339 617h3v1h-3zM345 615h2v1h-2zM347 614h1v1h-1zM351 613h2v1h-2zM353 612h1v1h-1zM357 611h3v1h-3zM363 610h2v1h-2zM365 609h1v1h-1zM369 608h3v1h-3zM375 607h1v1h-1zM376 606h2v1h-2zM381 605h3v1h-3zM387 604h3v1h-3zM393 603h3v1h-3zM399 602h3v1h-3zM405 601h2v1h-2zM407 600h1v1h-1zM411 600h1v1h-1zM412 599h2v1h-2zM417 598h1v1h-1zM418 597h2v1h-2zM423 597h3v1h-3zM429 597h3v1h-3zM435 597h3v1h-3zM441 597h3v1h-3zM447 597h3v1h-3zM453 597h3v1h-3zM459 597h3v1h-3zM465 597h3v1h-3zM471 597h1v1h-1zM472 598h2v1h-2zM477 598h1v1h-1zM478 597h2v1h-2zM483 597h3v1h-3zM489 597h3v1h-3zM495 597h3v1h-3zM501 597h3v1h-3zM507 597h3v1h-3zM513 598h3v1h-3zM519 598h3v1h-3zM525 599h3v1h-3zM531 600h3v1h-3zM537 601h3v1h-3zM543 602h3v1h-3zM549 604h2v1h-2zM551 605h1v1h-1zM555 606h1v1h-1zM556 607h2v1h-2zM561 609h1v1h-1zM562 610h1v1h-1zM563 611h1v1h-1zM567 614h1v1h-1zM568 615h1v1h-1zM569 616h1v1h-1zM573 619h1v1h-1zM574 620h1v1h-1zM575 621h1v1h-1zM579 625h2v1h-2zM581 626h1v1h-1zM585 629h1v1h-1zM586 630h1v1h-1zM587 631h1v1h-1zM591 633h1v1h-1zM592 634h1v1h-1zM593 635h1v1h-1zM597 637h2v1h-2zM599 638h1v1h-1zM603 639h2v1h-2zM605 640h1v1h-1zM609 641h3v1h-3zM615 640h3v1h-3zM621 639h3v1h-3zM627 638h1v1h-1zM628 637h2v1h-2zM633 635h1v1h-1zM634 634h2v1h-2zM639 632h2v1h-2zM641 631h1v1h-1zM645 630h3v1h-3zM651 629h3v1h-3zM657 628h3v1h-3zM663 628h3v1h-3zM669 628h3v1h-3zM675 628h3v1h-3zM681 628h3v1h-3zM687 629h3v1h-3zM693 630h1v1h-1zM694 629h2v1h-2zM699 629h1v1h-1zM700 628h2v1h-2zM705 627h1v1h-1zM706 626h2v1h-2zM711 624h1v1h-1zM712 623h2v1h-2zM717 620h1v1h-1zM718 619h1v1h-1zM719 618h1v1h-1zM723 615h2v1h-2zM725 614h1v1h-1zM729 612h1v1h-1zM730 611h1v1h-1zM731 610h1v1h-1zM735 608h1v1h-1zM736 607h1v1h-1zM737 606h1v1h-1zM741 605h2v1h-2zM743 604h1v1h-1zM747 603h3v1h-3zM753 603h3v1h-3zM759 604h3v1h-3zM765 605h3v1h-3zM771 606h1v1h-1zM772 607h2v1h-2zM777 609h1v1h-1zM778 610h2v1h-2zM783 612h1v1h-1zM784 613h2v1h-2zM789 616h2v1h-2zM791 617h1v1h-1zM795 619h1v1h-1zM796 620h2v1h-2zM801 622h1v1h-1zM802 623h2v1h-2zM807 626h2v1h-2zM809 627h1v1h-1zM813 628h1v1h-1zM814 629h2v1h-2zM819 630h2v1h-2zM821 631h1v1h-1zM825 632h3v1h-3zM831 632h3v1h-3zM837 632h3v1h-3zM843 632h3v1h-3zM849 632h3v1h-3zM855 632h3v1h-3zM861 632h1v1h-1zM862 631h2v1h-2zM867 631h3v1h-3zM873 631h3v1h-3zM879 631h3v1h-3zM885 631h3v1h-3zM891 632h3v1h-3zM897 634h3v1h-3zM903 635h1v1h-1zM904 636h2v1h-2zM909 637h3v1h-3zM915 638h2v1h-2zM917 639h1v1h-1zM921 640h3v1h-3zM927 641h1v1h-1zM928 642h2v1h-2zM933 643h1v1h-1zM934 644h2v1h-2zM939 645h2v1h-2zM941 646h1v1h-1zM945 646h3v1h-3zM951 646h3v1h-3zM957 646h2v1h-2zM959 645h1v1h-1zM963 644h2v1h-2zM965 643h1v1h-1zM969 643h1v1h-1zM970 642h2v1h-2zM975 641h2v1h-2zM977 640h1v1h-1zM981 639h1v1h-1zM982 638h2v1h-2zM987 636h1v1h-1zM988 635h2v1h-2zM993 633h1v1h-1zM994 632h2v1h-2zM999 630h2v1h-2zM1001 629h1v1h-1zM1005 628h1v1h-1zM1006 627h2v1h-2zM1011 624h3v1h-3zM1017 622h1v1h-1zM1018 621h2v1h-2zM1023 620h3v1h-3zM1029 619h3v1h-3zM1035 618h3v1h-3zM1041 618h3v1h-3zM1047 619h3v1h-3zM1053 621h1v1h-1zM1054 622h1v1h-1zM1055 623h1v1h-1zM1059 626h2v1h-2zM1061 627h1v1h-1zM1065 631h1v1h-1zM1066 632h1v1h-1zM1067 633h1v1h-1zM1071 636h2v1h-2zM1073 637h1v1h-1zM1077 640h1v1h-1zM1078 641h1v1h-1zM1079 642h1v1h-1zM1083 645h2v1h-2zM1085 646h1v1h-1zM1089 648h2v1h-2zM1091 649h1v1h-1zM1095 649h2v1h-2zM1097 650h1v1h-1zM1101 649h2v1h-2zM1103 648h1v1h-1zM1107 647h1v1h-1zM1108 646h2v1h-2zM1113 644h1v1h-1zM1114 643h2v1h-2zM1119 641h1v1h-1zM1120 640h2v1h-2z" fill="#ff0000" shape-rendering="crispEdges"/>
</g>
<g shape-rendering="crispEdges">
<rect x="1234" y="6" width="2" height="1" fill="#fff"/>
<rect x="1234" y="39" width="2" height="1" fill="#fff"/>
<rect x="1234" y="72" width="2" height="1" fill="#fff"/>
<rect x="1234" y="105" width="2" height="1" fill="#fff"/>
<rect x="1234" y="138" width="2" height="1" fill="#fff"/>
<rect x="1234" y="171" width="2" height="1" fill="#fff"/>
<rect x="1234" y="204" width="2" height="1" fill="#fff"/>
<rect x="1234" y="237" width="2" height="1" fill="#fff"/>
<rect x="1234" y="270" width="2" height="1" fill="#fff"/>
<rect x="1234" y="303" width="2" height="1" fill="#fff"/>
<rect x="1234" y="336" width="2" height="1" fill="#fff"/>
<rect x="1234" y="369" width="2" height="1" fill="#fff"/>
<rect x="1234" y="402" width="2" height="1" fill="#fff"/>
<rect x="1234" y="409" width="1" height="1" fill="#fff"/>
<rect x="1234" y="458" width="1" height="1" fill="#fff"/>
<rect x="1234" y="498" width="1" height="1" fill="#fff"/>
<rect x="1234" y="503" width="1" height="1" fill="#fff"/>
<rect x="1234" y="544" width="1" height="1" fill="#fff"/>
<rect x="1234" y="581" width="1" height="1" fill="#fff"/>
<rect x="1234" y="586" width="1" height="1" fill="#fff"/>
<rect x="1234" y="666" width="1" height="1" fill="#fff"/>
<rect x="3" y="668" width="1" height="3" fill="#fff"/>
<rect x="67" y="668" width="1" height="3" fill="#fff"/>
<rect x="131" y="668" width="1" height="3" fill="#fff"/>
<rect x="195" y="668" width="1" height="3" fill="#fff"/>
<rect x="259" y="668" width="1" height="3" fill="#fff"/>
<rect x="323" y="668" width="1" height="3" fill="#fff"/>
<rect x="387" y="668" width="1" height="3" fill="#fff"/>
<rect x="451" y="668" width="1" height="3" fill="#fff"/>
<rect x="515" y="668" width="1" height="3" fill="#fff"/>
<rect x="579" y="668" width="1" height="3" fill="#fff"/>
<rect x="643" y="668" width="1" height="3" fill="#fff"/>
<rect x="707" y="668" width="1" height="3" fill="#fff"/>
<rect x="771" y="668" width="1" height="3" fill="#fff"/>
<rect x="835" y="668" width="1" height="3" fill="#fff"/>
<rect x="899" y="668" width="1" height="3" fill="#fff"/>
<rect x="963" y="668" width="1" height="3" fill="#fff"/>
<rect x="1027" y="668" width="1" height="3" fill="#fff"/>
<rect x="1091" y="668" width="1" height="3" fill="#fff"/>
<rect x="1235" y="183" width="41" height="11" fill="#fff"/>
<rect x="1233" y="189" width="1" height="1" fill="#778899"/>
</g>
<g shape-rendering="crispEdges">
<rect x="6" y="9" width="7" height="1" fill="#fff"/>
<rect x="7" y="10" width="5" height="1" fill="#fff"/>
<rect x="8" y="11" width="3" height="1" fill="#fff"/>
<rect x="9" y="12" width="1" height="1" fill="#fff"/>
</g>
<text y="14" font-size="9.9" fill="#fff" stroke="#fff" stroke-width="0.15"><tspan x="18.4" textLength="63.4" lengthAdjust="spacingAndGlyphs">BTCUSD,Daily</tspan> <tspan x="88.4" textLength="32" lengthAdjust="spacingAndGlyphs">511.807</tspan> <tspan x="124.1" textLength="32.4" lengthAdjust="spacingAndGlyphs">518.997</tspan> <tspan x="159.9" textLength="32.3" lengthAdjust="spacingAndGlyphs">491.271</tspan> <tspan x="196" textLength="32.5" lengthAdjust="spacingAndGlyphs">516.900</tspan></text>
<text x="1239" y="9" font-size="9.9" fill="#fff" stroke="#fff" stroke-width="0.15" textLength="32.7" lengthAdjust="spacingAndGlyphs">682.460</text>
<text x="1239" y="42" font-size="9.9" fill="#fff" stroke="#fff" stroke-width="0.15" textLength="32.7" lengthAdjust="spacingAndGlyphs">651.860</text>
<text x="1239" y="75" font-size="9.9" fill="#fff" stroke="#fff" stroke-width="0.15" textLength="32.7" lengthAdjust="spacingAndGlyphs">622.160</text>
<text x="1239" y="108" font-size="9.9" fill="#fff" stroke="#fff" stroke-width="0.15" textLength="32.7" lengthAdjust="spacingAndGlyphs">592.460</text>
<text x="1239" y="141" font-size="9.9" fill="#fff" stroke="#fff" stroke-width="0.15" textLength="32.7" lengthAdjust="spacingAndGlyphs">562.760</text>
<text x="1239" y="174" font-size="9.9" fill="#fff" stroke="#fff" stroke-width="0.15" textLength="32.7" lengthAdjust="spacingAndGlyphs">533.060</text>
<text x="1239" y="207" font-size="9.9" fill="#fff" stroke="#fff" stroke-width="0.15" textLength="32.7" lengthAdjust="spacingAndGlyphs">503.360</text>
<text x="1239" y="240" font-size="9.9" fill="#fff" stroke="#fff" stroke-width="0.15" textLength="32.7" lengthAdjust="spacingAndGlyphs">472.760</text>
<text x="1239" y="273" font-size="9.9" fill="#fff" stroke="#fff" stroke-width="0.15" textLength="32.7" lengthAdjust="spacingAndGlyphs">443.060</text>
<text x="1239" y="306" font-size="9.9" fill="#fff" stroke="#fff" stroke-width="0.15" textLength="32.7" lengthAdjust="spacingAndGlyphs">413.360</text>
<text x="1239" y="339" font-size="9.9" fill="#fff" stroke="#fff" stroke-width="0.15" textLength="32.7" lengthAdjust="spacingAndGlyphs">383.660</text>
<text x="1239" y="372" font-size="9.9" fill="#fff" stroke="#fff" stroke-width="0.15" textLength="32.7" lengthAdjust="spacingAndGlyphs">353.960</text>
<text x="1239" y="405" font-size="9.9" fill="#fff" stroke="#fff" stroke-width="0.15" textLength="32.7" lengthAdjust="spacingAndGlyphs">324.260</text>
<text x="1239" y="192" font-size="9.9" fill="#000" stroke="#000" stroke-width="0.15" textLength="32.7" lengthAdjust="spacingAndGlyphs">516.900</text>
<text x="1167.7" y="35" font-size="9.9" fill="#ffff00" stroke="#ffff00" stroke-width="0.15" textLength="64.5" lengthAdjust="spacingAndGlyphs">100.0 - 654.102</text>
<text x="1172.4" y="112" font-size="9.9" fill="#ffff00" stroke="#ffff00" stroke-width="0.15" textLength="59.8" lengthAdjust="spacingAndGlyphs">78.6 - 584.744</text>
<text x="1172.4" y="172" font-size="9.9" fill="#ffff00" stroke="#ffff00" stroke-width="0.15" textLength="59.8" lengthAdjust="spacingAndGlyphs">61.8 - 530.295</text>
<text x="1172.4" y="214" font-size="9.9" fill="#ffff00" stroke="#ffff00" stroke-width="0.15" textLength="59.8" lengthAdjust="spacingAndGlyphs">50.0 - 492.051</text>
<text x="1172.4" y="257" font-size="9.9" fill="#ffff00" stroke="#ffff00" stroke-width="0.15" textLength="59.8" lengthAdjust="spacingAndGlyphs">38.2 - 453.807</text>
<text x="1172.4" y="309" font-size="9.9" fill="#ffff00" stroke="#ffff00" stroke-width="0.15" textLength="59.8" lengthAdjust="spacingAndGlyphs">23.6 - 406.488</text>
<text x="1177.2" y="393" font-size="9.9" fill="#ffff00" stroke="#ffff00" stroke-width="0.15" textLength="55" lengthAdjust="spacingAndGlyphs">0.0 - 330.000</text>
<text x="7.4" y="420" font-size="9.9" fill="#fff" stroke="#fff" stroke-width="0.15" textLength="49.7" lengthAdjust="spacingAndGlyphs">AC 6.24540</text>
<text x="7.4" y="514" font-size="9.9" fill="#fff" stroke="#fff" stroke-width="0.15" textLength="53.4" lengthAdjust="spacingAndGlyphs">AO -84.7601</text>
<text x="7.1" y="597" font-size="9.9" fill="#fff" stroke="#fff" stroke-width="0.15" textLength="127" lengthAdjust="spacingAndGlyphs">Stoch(10,6,6) 56.6744 35.5585</text>
<text x="7.5" y="663" font-size="9.9" fill="#fff" stroke="#fff" stroke-width="0.15" textLength="248.3" lengthAdjust="spacingAndGlyphs">BTC-eExchange, &#169; 2001-2014, MetaQuotes Software Corp.</text>
<g clip-path="url(#cr)">
<text x="1237" y="418" font-size="9.9" fill="#fff" stroke="#fff" stroke-width="0.15" textLength="37.9" lengthAdjust="spacingAndGlyphs">46.11758</text>
<text x="1237" y="461" font-size="9.9" fill="#fff" stroke="#fff" stroke-width="0.15" textLength="17.6" lengthAdjust="spacingAndGlyphs">0.00</text>
<text x="1237" y="496" font-size="9.9" fill="#fff" stroke="#fff" stroke-width="0.15" textLength="41.2" lengthAdjust="spacingAndGlyphs">-38.06714</text>
<text x="1237.5" y="512" font-size="9.9" fill="#fff" stroke="#fff" stroke-width="0.15" textLength="37.7" lengthAdjust="spacingAndGlyphs">150.3828</text>
<text x="1237" y="547" font-size="9.9" fill="#fff" stroke="#fff" stroke-width="0.15" textLength="17.6" lengthAdjust="spacingAndGlyphs">0.00</text>
<text x="1236.8" y="579" font-size="9.9" fill="#fff" stroke="#fff" stroke-width="0.15" textLength="41.2" lengthAdjust="spacingAndGlyphs">-133.4176</text>
<text x="1237.5" y="595" font-size="9.9" fill="#fff" stroke="#fff" stroke-width="0.15" textLength="14.5" lengthAdjust="spacingAndGlyphs">100</text>
<text x="1236" y="605" font-size="9.9" fill="#fff" stroke="#fff" stroke-width="0.15" textLength="9.8" lengthAdjust="spacingAndGlyphs">80</text>
<text x="1236" y="653" font-size="9.9" fill="#fff" stroke="#fff" stroke-width="0.15" textLength="9.8" lengthAdjust="spacingAndGlyphs">20</text>
<text x="1237" y="664" font-size="9.9" fill="#fff" stroke="#fff" stroke-width="0.15" textLength="5" lengthAdjust="spacingAndGlyphs">0</text>
</g>
<text x="2.5" y="680" font-size="9.9" fill="#fff" stroke="#fff" stroke-width="0.15" textLength="45.5" lengthAdjust="spacingAndGlyphs">4 Apr 2014</text>
<text x="66.5" y="680" font-size="9.9" fill="#fff" stroke="#fff" stroke-width="0.15" textLength="50.5" lengthAdjust="spacingAndGlyphs">12 Apr 2014</text>
<text x="130.5" y="680" font-size="9.9" fill="#fff" stroke="#fff" stroke-width="0.15" textLength="50.5" lengthAdjust="spacingAndGlyphs">20 Apr 2014</text>
<text x="194.5" y="680" font-size="9.9" fill="#fff" stroke="#fff" stroke-width="0.15" textLength="50.5" lengthAdjust="spacingAndGlyphs">28 Apr 2014</text>
<text x="258.5" y="680" font-size="9.9" fill="#fff" stroke="#fff" stroke-width="0.15" textLength="49" lengthAdjust="spacingAndGlyphs">6 May 2014</text>
<text x="322.5" y="680" font-size="9.9" fill="#fff" stroke="#fff" stroke-width="0.15" textLength="54" lengthAdjust="spacingAndGlyphs">14 May 2014</text>
<text x="386.5" y="680" font-size="9.9" fill="#fff" stroke="#fff" stroke-width="0.15" textLength="54" lengthAdjust="spacingAndGlyphs">22 May 2014</text>
<text x="450.5" y="680" font-size="9.9" fill="#fff" stroke="#fff" stroke-width="0.15" textLength="54" lengthAdjust="spacingAndGlyphs">30 May 2014</text>
<text x="514.5" y="680" font-size="9.9" fill="#fff" stroke="#fff" stroke-width="0.15" textLength="44.6" lengthAdjust="spacingAndGlyphs">7 Jun 2014</text>
<text x="578.5" y="680" font-size="9.9" fill="#fff" stroke="#fff" stroke-width="0.15" textLength="49.5" lengthAdjust="spacingAndGlyphs">15 Jun 2014</text>
<text x="642.5" y="680" font-size="9.9" fill="#fff" stroke="#fff" stroke-width="0.15" textLength="49.5" lengthAdjust="spacingAndGlyphs">23 Jun 2014</text>
<text x="706.5" y="680" font-size="9.9" fill="#fff" stroke="#fff" stroke-width="0.15" textLength="41" lengthAdjust="spacingAndGlyphs">1 Jul 2014</text>
<text x="770.5" y="680" font-size="9.9" fill="#fff" stroke="#fff" stroke-width="0.15" textLength="41" lengthAdjust="spacingAndGlyphs">9 Jul 2014</text>
<text x="834.5" y="680" font-size="9.9" fill="#fff" stroke="#fff" stroke-width="0.15" textLength="46" lengthAdjust="spacingAndGlyphs">17 Jul 2014</text>
<text x="898.5" y="680" font-size="9.9" fill="#fff" stroke="#fff" stroke-width="0.15" textLength="46" lengthAdjust="spacingAndGlyphs">25 Jul 2014</text>
<text x="962.5" y="680" font-size="9.9" fill="#fff" stroke="#fff" stroke-width="0.15" textLength="47" lengthAdjust="spacingAndGlyphs">2 Aug 2014</text>
<text x="1026.5" y="680" font-size="9.9" fill="#fff" stroke="#fff" stroke-width="0.15" textLength="52.3" lengthAdjust="spacingAndGlyphs">10 Aug 2014</text>
<text x="1090.5" y="680" font-size="9.9" fill="#fff" stroke="#fff" stroke-width="0.15" textLength="52.3" lengthAdjust="spacingAndGlyphs">18 Aug 2014</text>
</svg>
</body></html>
